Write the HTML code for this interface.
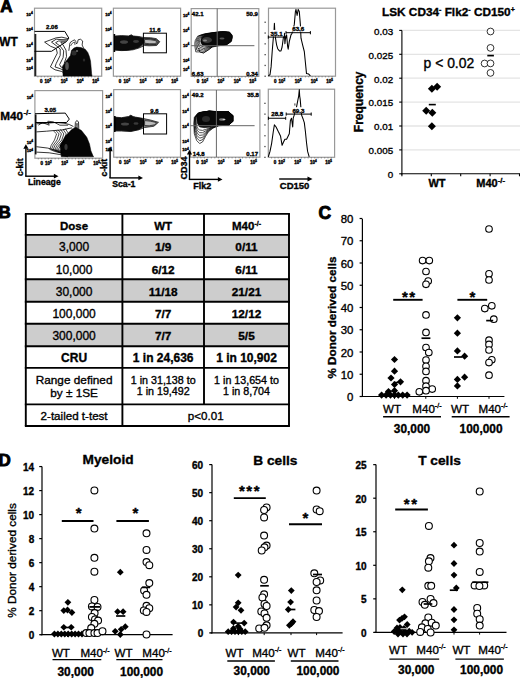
<!DOCTYPE html>
<html><head><meta charset="utf-8"><style>
html,body{margin:0;padding:0;background:#fff;}
svg{display:block;}
text{font-family:"Liberation Sans", sans-serif;fill:#000;stroke:#000;stroke-width:0.35px;}
</style></head><body>
<svg width="520" height="678" viewBox="0 0 520 678">
<rect width="520" height="678" fill="#fff"/>
<text x="0.2" y="12.4" font-size="17" font-weight="bold" text-anchor="start" style="stroke-width:0.9px">A</text>
<text x="-0.8" y="46.4" font-size="11.9" font-weight="bold" text-anchor="start">WT</text>
<text x="0.2" y="120.1" font-size="11.7" font-weight="bold">M40<tspan font-size="8" dy="-5" dx="0.5">-/-</tspan></text>
<rect x="34.5" y="8.2" width="67.2" height="68.0" fill="none" stroke="#999" stroke-width="1.2"/>
<text x="32.7" y="16.26" font-size="4.2" font-weight="bold" text-anchor="end" fill="#222">10<tspan font-size="3.2" dy="-1.8">4</tspan></text>
<text x="32.7" y="31.356" font-size="4.2" font-weight="bold" text-anchor="end" fill="#222">10<tspan font-size="3.2" dy="-1.8">4</tspan></text>
<text x="32.7" y="46.86000000000001" font-size="4.2" font-weight="bold" text-anchor="end" fill="#222">10<tspan font-size="3.2" dy="-1.8">4</tspan></text>
<text x="32.7" y="62.160000000000004" font-size="4.2" font-weight="bold" text-anchor="end" fill="#222">10<tspan font-size="3.2" dy="-1.8">4</tspan></text>
<text x="32.7" y="70.32" font-size="4.2" font-weight="bold" text-anchor="end" fill="#222">10<tspan font-size="3.2" dy="-1.8">4</tspan></text>
<text x="41.22" y="82.5" font-size="4.5" font-weight="bold" text-anchor="middle" fill="#333">0</text>
<text x="47.94" y="82.5" font-size="4.5" font-weight="bold" text-anchor="middle" fill="#333">10<tspan font-size="3" dy="-2">2</tspan></text>
<text x="64.068" y="82.5" font-size="4.5" font-weight="bold" text-anchor="middle" fill="#333">10<tspan font-size="3" dy="-2">3</tspan></text>
<text x="80.196" y="82.5" font-size="4.5" font-weight="bold" text-anchor="middle" fill="#333">10<tspan font-size="3" dy="-2">4</tspan></text>
<text x="95.65200000000002" y="82.5" font-size="4.5" font-weight="bold" text-anchor="middle" fill="#333">10<tspan font-size="3" dy="-2">5</tspan></text>
<line x1="37.9" y1="76.2" x2="37.9" y2="77.4" stroke="#555" stroke-width="0.6"/>
<line x1="41.2" y1="76.2" x2="41.2" y2="77.4" stroke="#555" stroke-width="0.6"/>
<line x1="44.6" y1="76.2" x2="44.6" y2="77.4" stroke="#555" stroke-width="0.6"/>
<line x1="47.9" y1="76.2" x2="47.9" y2="77.4" stroke="#555" stroke-width="0.6"/>
<line x1="51.3" y1="76.2" x2="51.3" y2="77.4" stroke="#555" stroke-width="0.6"/>
<line x1="54.7" y1="76.2" x2="54.7" y2="77.4" stroke="#555" stroke-width="0.6"/>
<line x1="58.0" y1="76.2" x2="58.0" y2="77.4" stroke="#555" stroke-width="0.6"/>
<line x1="61.4" y1="76.2" x2="61.4" y2="77.4" stroke="#555" stroke-width="0.6"/>
<line x1="64.7" y1="76.2" x2="64.7" y2="77.4" stroke="#555" stroke-width="0.6"/>
<line x1="68.1" y1="76.2" x2="68.1" y2="77.4" stroke="#555" stroke-width="0.6"/>
<line x1="71.5" y1="76.2" x2="71.5" y2="77.4" stroke="#555" stroke-width="0.6"/>
<line x1="74.8" y1="76.2" x2="74.8" y2="77.4" stroke="#555" stroke-width="0.6"/>
<line x1="78.2" y1="76.2" x2="78.2" y2="77.4" stroke="#555" stroke-width="0.6"/>
<line x1="81.5" y1="76.2" x2="81.5" y2="77.4" stroke="#555" stroke-width="0.6"/>
<line x1="84.9" y1="76.2" x2="84.9" y2="77.4" stroke="#555" stroke-width="0.6"/>
<line x1="88.3" y1="76.2" x2="88.3" y2="77.4" stroke="#555" stroke-width="0.6"/>
<line x1="91.6" y1="76.2" x2="91.6" y2="77.4" stroke="#555" stroke-width="0.6"/>
<line x1="95.0" y1="76.2" x2="95.0" y2="77.4" stroke="#555" stroke-width="0.6"/>
<line x1="98.3" y1="76.2" x2="98.3" y2="77.4" stroke="#555" stroke-width="0.6"/>
<rect x="113.4" y="8.2" width="67.19999999999999" height="68.0" fill="none" stroke="#999" stroke-width="1.2"/>
<text x="111.60000000000001" y="16.26" font-size="4.2" font-weight="bold" text-anchor="end" fill="#222">10<tspan font-size="3.2" dy="-1.8">4</tspan></text>
<text x="111.60000000000001" y="31.356" font-size="4.2" font-weight="bold" text-anchor="end" fill="#222">10<tspan font-size="3.2" dy="-1.8">4</tspan></text>
<text x="111.60000000000001" y="46.86000000000001" font-size="4.2" font-weight="bold" text-anchor="end" fill="#222">10<tspan font-size="3.2" dy="-1.8">4</tspan></text>
<text x="111.60000000000001" y="62.160000000000004" font-size="4.2" font-weight="bold" text-anchor="end" fill="#222">10<tspan font-size="3.2" dy="-1.8">4</tspan></text>
<text x="111.60000000000001" y="70.32" font-size="4.2" font-weight="bold" text-anchor="end" fill="#222">10<tspan font-size="3.2" dy="-1.8">4</tspan></text>
<text x="120.12" y="82.5" font-size="4.5" font-weight="bold" text-anchor="middle" fill="#333">0</text>
<text x="126.84" y="82.5" font-size="4.5" font-weight="bold" text-anchor="middle" fill="#333">10<tspan font-size="3" dy="-2">2</tspan></text>
<text x="142.968" y="82.5" font-size="4.5" font-weight="bold" text-anchor="middle" fill="#333">10<tspan font-size="3" dy="-2">3</tspan></text>
<text x="159.096" y="82.5" font-size="4.5" font-weight="bold" text-anchor="middle" fill="#333">10<tspan font-size="3" dy="-2">4</tspan></text>
<text x="174.552" y="82.5" font-size="4.5" font-weight="bold" text-anchor="middle" fill="#333">10<tspan font-size="3" dy="-2">5</tspan></text>
<line x1="116.8" y1="76.2" x2="116.8" y2="77.4" stroke="#555" stroke-width="0.6"/>
<line x1="120.1" y1="76.2" x2="120.1" y2="77.4" stroke="#555" stroke-width="0.6"/>
<line x1="123.5" y1="76.2" x2="123.5" y2="77.4" stroke="#555" stroke-width="0.6"/>
<line x1="126.8" y1="76.2" x2="126.8" y2="77.4" stroke="#555" stroke-width="0.6"/>
<line x1="130.2" y1="76.2" x2="130.2" y2="77.4" stroke="#555" stroke-width="0.6"/>
<line x1="133.6" y1="76.2" x2="133.6" y2="77.4" stroke="#555" stroke-width="0.6"/>
<line x1="136.9" y1="76.2" x2="136.9" y2="77.4" stroke="#555" stroke-width="0.6"/>
<line x1="140.3" y1="76.2" x2="140.3" y2="77.4" stroke="#555" stroke-width="0.6"/>
<line x1="143.6" y1="76.2" x2="143.6" y2="77.4" stroke="#555" stroke-width="0.6"/>
<line x1="147.0" y1="76.2" x2="147.0" y2="77.4" stroke="#555" stroke-width="0.6"/>
<line x1="150.4" y1="76.2" x2="150.4" y2="77.4" stroke="#555" stroke-width="0.6"/>
<line x1="153.7" y1="76.2" x2="153.7" y2="77.4" stroke="#555" stroke-width="0.6"/>
<line x1="157.1" y1="76.2" x2="157.1" y2="77.4" stroke="#555" stroke-width="0.6"/>
<line x1="160.4" y1="76.2" x2="160.4" y2="77.4" stroke="#555" stroke-width="0.6"/>
<line x1="163.8" y1="76.2" x2="163.8" y2="77.4" stroke="#555" stroke-width="0.6"/>
<line x1="167.2" y1="76.2" x2="167.2" y2="77.4" stroke="#555" stroke-width="0.6"/>
<line x1="170.5" y1="76.2" x2="170.5" y2="77.4" stroke="#555" stroke-width="0.6"/>
<line x1="173.9" y1="76.2" x2="173.9" y2="77.4" stroke="#555" stroke-width="0.6"/>
<line x1="177.2" y1="76.2" x2="177.2" y2="77.4" stroke="#555" stroke-width="0.6"/>
<rect x="191.2" y="8.6" width="67.60000000000002" height="67.80000000000001" fill="none" stroke="#999" stroke-width="1.2"/>
<text x="189.39999999999998" y="16.641000000000002" font-size="4.2" font-weight="bold" text-anchor="end" fill="#222">10<tspan font-size="3.2" dy="-1.8">4</tspan></text>
<text x="189.39999999999998" y="31.692600000000006" font-size="4.2" font-weight="bold" text-anchor="end" fill="#222">10<tspan font-size="3.2" dy="-1.8">4</tspan></text>
<text x="189.39999999999998" y="47.15100000000001" font-size="4.2" font-weight="bold" text-anchor="end" fill="#222">10<tspan font-size="3.2" dy="-1.8">4</tspan></text>
<text x="189.39999999999998" y="62.40600000000001" font-size="4.2" font-weight="bold" text-anchor="end" fill="#222">10<tspan font-size="3.2" dy="-1.8">4</tspan></text>
<text x="189.39999999999998" y="70.542" font-size="4.2" font-weight="bold" text-anchor="end" fill="#222">10<tspan font-size="3.2" dy="-1.8">4</tspan></text>
<text x="197.95999999999998" y="82.7" font-size="4.5" font-weight="bold" text-anchor="middle" fill="#333">0</text>
<text x="204.72" y="82.7" font-size="4.5" font-weight="bold" text-anchor="middle" fill="#333">10<tspan font-size="3" dy="-2">2</tspan></text>
<text x="220.944" y="82.7" font-size="4.5" font-weight="bold" text-anchor="middle" fill="#333">10<tspan font-size="3" dy="-2">3</tspan></text>
<text x="237.168" y="82.7" font-size="4.5" font-weight="bold" text-anchor="middle" fill="#333">10<tspan font-size="3" dy="-2">4</tspan></text>
<text x="252.716" y="82.7" font-size="4.5" font-weight="bold" text-anchor="middle" fill="#333">10<tspan font-size="3" dy="-2">5</tspan></text>
<line x1="194.6" y1="76.4" x2="194.6" y2="77.60000000000001" stroke="#555" stroke-width="0.6"/>
<line x1="198.0" y1="76.4" x2="198.0" y2="77.60000000000001" stroke="#555" stroke-width="0.6"/>
<line x1="201.3" y1="76.4" x2="201.3" y2="77.60000000000001" stroke="#555" stroke-width="0.6"/>
<line x1="204.7" y1="76.4" x2="204.7" y2="77.60000000000001" stroke="#555" stroke-width="0.6"/>
<line x1="208.1" y1="76.4" x2="208.1" y2="77.60000000000001" stroke="#555" stroke-width="0.6"/>
<line x1="211.5" y1="76.4" x2="211.5" y2="77.60000000000001" stroke="#555" stroke-width="0.6"/>
<line x1="214.9" y1="76.4" x2="214.9" y2="77.60000000000001" stroke="#555" stroke-width="0.6"/>
<line x1="218.2" y1="76.4" x2="218.2" y2="77.60000000000001" stroke="#555" stroke-width="0.6"/>
<line x1="221.6" y1="76.4" x2="221.6" y2="77.60000000000001" stroke="#555" stroke-width="0.6"/>
<line x1="225.0" y1="76.4" x2="225.0" y2="77.60000000000001" stroke="#555" stroke-width="0.6"/>
<line x1="228.4" y1="76.4" x2="228.4" y2="77.60000000000001" stroke="#555" stroke-width="0.6"/>
<line x1="231.8" y1="76.4" x2="231.8" y2="77.60000000000001" stroke="#555" stroke-width="0.6"/>
<line x1="235.1" y1="76.4" x2="235.1" y2="77.60000000000001" stroke="#555" stroke-width="0.6"/>
<line x1="238.5" y1="76.4" x2="238.5" y2="77.60000000000001" stroke="#555" stroke-width="0.6"/>
<line x1="241.9" y1="76.4" x2="241.9" y2="77.60000000000001" stroke="#555" stroke-width="0.6"/>
<line x1="245.3" y1="76.4" x2="245.3" y2="77.60000000000001" stroke="#555" stroke-width="0.6"/>
<line x1="248.7" y1="76.4" x2="248.7" y2="77.60000000000001" stroke="#555" stroke-width="0.6"/>
<line x1="252.0" y1="76.4" x2="252.0" y2="77.60000000000001" stroke="#555" stroke-width="0.6"/>
<line x1="255.4" y1="76.4" x2="255.4" y2="77.60000000000001" stroke="#555" stroke-width="0.6"/>
<rect x="268.5" y="8.2" width="67.0" height="68.0" fill="none" stroke="#999" stroke-width="1.2"/>
<rect x="264.5" y="75.6" width="1.3" height="1.3" fill="#444"/>
<rect x="264.5" y="64.8" width="1.3" height="1.3" fill="#444"/>
<rect x="264.5" y="54.0" width="1.3" height="1.3" fill="#444"/>
<rect x="264.5" y="43.2" width="1.3" height="1.3" fill="#444"/>
<rect x="264.5" y="32.4" width="1.3" height="1.3" fill="#444"/>
<rect x="264.5" y="21.6" width="1.3" height="1.3" fill="#444"/>
<text x="275.2" y="82.5" font-size="4.5" font-weight="bold" text-anchor="middle" fill="#333">0</text>
<text x="281.9" y="82.5" font-size="4.5" font-weight="bold" text-anchor="middle" fill="#333">10<tspan font-size="3" dy="-2">2</tspan></text>
<text x="297.98" y="82.5" font-size="4.5" font-weight="bold" text-anchor="middle" fill="#333">10<tspan font-size="3" dy="-2">3</tspan></text>
<text x="314.06" y="82.5" font-size="4.5" font-weight="bold" text-anchor="middle" fill="#333">10<tspan font-size="3" dy="-2">4</tspan></text>
<text x="329.47" y="82.5" font-size="4.5" font-weight="bold" text-anchor="middle" fill="#333">10<tspan font-size="3" dy="-2">5</tspan></text>
<line x1="271.9" y1="76.2" x2="271.9" y2="77.4" stroke="#555" stroke-width="0.6"/>
<line x1="275.2" y1="76.2" x2="275.2" y2="77.4" stroke="#555" stroke-width="0.6"/>
<line x1="278.6" y1="76.2" x2="278.6" y2="77.4" stroke="#555" stroke-width="0.6"/>
<line x1="281.9" y1="76.2" x2="281.9" y2="77.4" stroke="#555" stroke-width="0.6"/>
<line x1="285.2" y1="76.2" x2="285.2" y2="77.4" stroke="#555" stroke-width="0.6"/>
<line x1="288.6" y1="76.2" x2="288.6" y2="77.4" stroke="#555" stroke-width="0.6"/>
<line x1="291.9" y1="76.2" x2="291.9" y2="77.4" stroke="#555" stroke-width="0.6"/>
<line x1="295.3" y1="76.2" x2="295.3" y2="77.4" stroke="#555" stroke-width="0.6"/>
<line x1="298.6" y1="76.2" x2="298.6" y2="77.4" stroke="#555" stroke-width="0.6"/>
<line x1="302.0" y1="76.2" x2="302.0" y2="77.4" stroke="#555" stroke-width="0.6"/>
<line x1="305.4" y1="76.2" x2="305.4" y2="77.4" stroke="#555" stroke-width="0.6"/>
<line x1="308.7" y1="76.2" x2="308.7" y2="77.4" stroke="#555" stroke-width="0.6"/>
<line x1="312.1" y1="76.2" x2="312.1" y2="77.4" stroke="#555" stroke-width="0.6"/>
<line x1="315.4" y1="76.2" x2="315.4" y2="77.4" stroke="#555" stroke-width="0.6"/>
<line x1="318.8" y1="76.2" x2="318.8" y2="77.4" stroke="#555" stroke-width="0.6"/>
<line x1="322.1" y1="76.2" x2="322.1" y2="77.4" stroke="#555" stroke-width="0.6"/>
<line x1="325.4" y1="76.2" x2="325.4" y2="77.4" stroke="#555" stroke-width="0.6"/>
<line x1="328.8" y1="76.2" x2="328.8" y2="77.4" stroke="#555" stroke-width="0.6"/>
<line x1="332.1" y1="76.2" x2="332.1" y2="77.4" stroke="#555" stroke-width="0.6"/>
<rect x="34.9" y="90.6" width="67.69999999999999" height="67.6" fill="none" stroke="#999" stroke-width="1.2"/>
<text x="33.1" y="98.62199999999999" font-size="4.2" font-weight="bold" text-anchor="end" fill="#222">10<tspan font-size="3.2" dy="-1.8">4</tspan></text>
<text x="33.1" y="129.042" font-size="4.2" font-weight="bold" text-anchor="end" fill="#222">10<tspan font-size="3.2" dy="-1.8">4</tspan></text>
<text x="33.1" y="144.25199999999998" font-size="4.2" font-weight="bold" text-anchor="end" fill="#222">10<tspan font-size="3.2" dy="-1.8">4</tspan></text>
<text x="33.1" y="152.36399999999998" font-size="4.2" font-weight="bold" text-anchor="end" fill="#222">10<tspan font-size="3.2" dy="-1.8">4</tspan></text>
<text x="41.67" y="164.5" font-size="4.5" font-weight="bold" text-anchor="middle" fill="#333">0</text>
<text x="48.44" y="164.5" font-size="4.5" font-weight="bold" text-anchor="middle" fill="#333">10<tspan font-size="3" dy="-2">2</tspan></text>
<text x="64.68799999999999" y="164.5" font-size="4.5" font-weight="bold" text-anchor="middle" fill="#333">10<tspan font-size="3" dy="-2">3</tspan></text>
<text x="80.93599999999999" y="164.5" font-size="4.5" font-weight="bold" text-anchor="middle" fill="#333">10<tspan font-size="3" dy="-2">4</tspan></text>
<text x="96.50699999999999" y="164.5" font-size="4.5" font-weight="bold" text-anchor="middle" fill="#333">10<tspan font-size="3" dy="-2">5</tspan></text>
<line x1="38.3" y1="158.2" x2="38.3" y2="159.39999999999998" stroke="#555" stroke-width="0.6"/>
<line x1="41.7" y1="158.2" x2="41.7" y2="159.39999999999998" stroke="#555" stroke-width="0.6"/>
<line x1="45.1" y1="158.2" x2="45.1" y2="159.39999999999998" stroke="#555" stroke-width="0.6"/>
<line x1="48.4" y1="158.2" x2="48.4" y2="159.39999999999998" stroke="#555" stroke-width="0.6"/>
<line x1="51.8" y1="158.2" x2="51.8" y2="159.39999999999998" stroke="#555" stroke-width="0.6"/>
<line x1="55.2" y1="158.2" x2="55.2" y2="159.39999999999998" stroke="#555" stroke-width="0.6"/>
<line x1="58.6" y1="158.2" x2="58.6" y2="159.39999999999998" stroke="#555" stroke-width="0.6"/>
<line x1="62.0" y1="158.2" x2="62.0" y2="159.39999999999998" stroke="#555" stroke-width="0.6"/>
<line x1="65.4" y1="158.2" x2="65.4" y2="159.39999999999998" stroke="#555" stroke-width="0.6"/>
<line x1="68.8" y1="158.2" x2="68.8" y2="159.39999999999998" stroke="#555" stroke-width="0.6"/>
<line x1="72.1" y1="158.2" x2="72.1" y2="159.39999999999998" stroke="#555" stroke-width="0.6"/>
<line x1="75.5" y1="158.2" x2="75.5" y2="159.39999999999998" stroke="#555" stroke-width="0.6"/>
<line x1="78.9" y1="158.2" x2="78.9" y2="159.39999999999998" stroke="#555" stroke-width="0.6"/>
<line x1="82.3" y1="158.2" x2="82.3" y2="159.39999999999998" stroke="#555" stroke-width="0.6"/>
<line x1="85.7" y1="158.2" x2="85.7" y2="159.39999999999998" stroke="#555" stroke-width="0.6"/>
<line x1="89.1" y1="158.2" x2="89.1" y2="159.39999999999998" stroke="#555" stroke-width="0.6"/>
<line x1="92.4" y1="158.2" x2="92.4" y2="159.39999999999998" stroke="#555" stroke-width="0.6"/>
<line x1="95.8" y1="158.2" x2="95.8" y2="159.39999999999998" stroke="#555" stroke-width="0.6"/>
<line x1="99.2" y1="158.2" x2="99.2" y2="159.39999999999998" stroke="#555" stroke-width="0.6"/>
<rect x="113.7" y="89.6" width="66.8" height="67.6" fill="none" stroke="#999" stroke-width="1.2"/>
<text x="111.9" y="97.62199999999999" font-size="4.2" font-weight="bold" text-anchor="end" fill="#222">10<tspan font-size="3.2" dy="-1.8">4</tspan></text>
<text x="111.9" y="112.62919999999998" font-size="4.2" font-weight="bold" text-anchor="end" fill="#222">10<tspan font-size="3.2" dy="-1.8">4</tspan></text>
<text x="111.9" y="128.042" font-size="4.2" font-weight="bold" text-anchor="end" fill="#222">10<tspan font-size="3.2" dy="-1.8">4</tspan></text>
<text x="111.9" y="143.25199999999998" font-size="4.2" font-weight="bold" text-anchor="end" fill="#222">10<tspan font-size="3.2" dy="-1.8">4</tspan></text>
<text x="111.9" y="151.36399999999998" font-size="4.2" font-weight="bold" text-anchor="end" fill="#222">10<tspan font-size="3.2" dy="-1.8">4</tspan></text>
<text x="120.38" y="163.5" font-size="4.5" font-weight="bold" text-anchor="middle" fill="#333">0</text>
<text x="127.06" y="163.5" font-size="4.5" font-weight="bold" text-anchor="middle" fill="#333">10<tspan font-size="3" dy="-2">2</tspan></text>
<text x="143.092" y="163.5" font-size="4.5" font-weight="bold" text-anchor="middle" fill="#333">10<tspan font-size="3" dy="-2">3</tspan></text>
<text x="159.124" y="163.5" font-size="4.5" font-weight="bold" text-anchor="middle" fill="#333">10<tspan font-size="3" dy="-2">4</tspan></text>
<text x="174.488" y="163.5" font-size="4.5" font-weight="bold" text-anchor="middle" fill="#333">10<tspan font-size="3" dy="-2">5</tspan></text>
<line x1="117.0" y1="157.2" x2="117.0" y2="158.39999999999998" stroke="#555" stroke-width="0.6"/>
<line x1="120.4" y1="157.2" x2="120.4" y2="158.39999999999998" stroke="#555" stroke-width="0.6"/>
<line x1="123.7" y1="157.2" x2="123.7" y2="158.39999999999998" stroke="#555" stroke-width="0.6"/>
<line x1="127.1" y1="157.2" x2="127.1" y2="158.39999999999998" stroke="#555" stroke-width="0.6"/>
<line x1="130.4" y1="157.2" x2="130.4" y2="158.39999999999998" stroke="#555" stroke-width="0.6"/>
<line x1="133.7" y1="157.2" x2="133.7" y2="158.39999999999998" stroke="#555" stroke-width="0.6"/>
<line x1="137.1" y1="157.2" x2="137.1" y2="158.39999999999998" stroke="#555" stroke-width="0.6"/>
<line x1="140.4" y1="157.2" x2="140.4" y2="158.39999999999998" stroke="#555" stroke-width="0.6"/>
<line x1="143.8" y1="157.2" x2="143.8" y2="158.39999999999998" stroke="#555" stroke-width="0.6"/>
<line x1="147.1" y1="157.2" x2="147.1" y2="158.39999999999998" stroke="#555" stroke-width="0.6"/>
<line x1="150.4" y1="157.2" x2="150.4" y2="158.39999999999998" stroke="#555" stroke-width="0.6"/>
<line x1="153.8" y1="157.2" x2="153.8" y2="158.39999999999998" stroke="#555" stroke-width="0.6"/>
<line x1="157.1" y1="157.2" x2="157.1" y2="158.39999999999998" stroke="#555" stroke-width="0.6"/>
<line x1="160.5" y1="157.2" x2="160.5" y2="158.39999999999998" stroke="#555" stroke-width="0.6"/>
<line x1="163.8" y1="157.2" x2="163.8" y2="158.39999999999998" stroke="#555" stroke-width="0.6"/>
<line x1="167.1" y1="157.2" x2="167.1" y2="158.39999999999998" stroke="#555" stroke-width="0.6"/>
<line x1="170.5" y1="157.2" x2="170.5" y2="158.39999999999998" stroke="#555" stroke-width="0.6"/>
<line x1="173.8" y1="157.2" x2="173.8" y2="158.39999999999998" stroke="#555" stroke-width="0.6"/>
<line x1="177.2" y1="157.2" x2="177.2" y2="158.39999999999998" stroke="#555" stroke-width="0.6"/>
<rect x="190.5" y="90.0" width="69.39999999999998" height="67.19999999999999" fill="none" stroke="#999" stroke-width="1.2"/>
<text x="188.7" y="97.984" font-size="4.2" font-weight="bold" text-anchor="end" fill="#222">10<tspan font-size="3.2" dy="-1.8">4</tspan></text>
<text x="188.7" y="112.90239999999999" font-size="4.2" font-weight="bold" text-anchor="end" fill="#222">10<tspan font-size="3.2" dy="-1.8">4</tspan></text>
<text x="188.7" y="128.224" font-size="4.2" font-weight="bold" text-anchor="end" fill="#222">10<tspan font-size="3.2" dy="-1.8">4</tspan></text>
<text x="188.7" y="143.344" font-size="4.2" font-weight="bold" text-anchor="end" fill="#222">10<tspan font-size="3.2" dy="-1.8">4</tspan></text>
<text x="188.7" y="151.408" font-size="4.2" font-weight="bold" text-anchor="end" fill="#222">10<tspan font-size="3.2" dy="-1.8">4</tspan></text>
<text x="197.44" y="163.5" font-size="4.5" font-weight="bold" text-anchor="middle" fill="#333">0</text>
<text x="204.38" y="163.5" font-size="4.5" font-weight="bold" text-anchor="middle" fill="#333">10<tspan font-size="3" dy="-2">2</tspan></text>
<text x="221.036" y="163.5" font-size="4.5" font-weight="bold" text-anchor="middle" fill="#333">10<tspan font-size="3" dy="-2">3</tspan></text>
<text x="237.69199999999998" y="163.5" font-size="4.5" font-weight="bold" text-anchor="middle" fill="#333">10<tspan font-size="3" dy="-2">4</tspan></text>
<text x="253.654" y="163.5" font-size="4.5" font-weight="bold" text-anchor="middle" fill="#333">10<tspan font-size="3" dy="-2">5</tspan></text>
<line x1="194.0" y1="157.2" x2="194.0" y2="158.39999999999998" stroke="#555" stroke-width="0.6"/>
<line x1="197.4" y1="157.2" x2="197.4" y2="158.39999999999998" stroke="#555" stroke-width="0.6"/>
<line x1="200.9" y1="157.2" x2="200.9" y2="158.39999999999998" stroke="#555" stroke-width="0.6"/>
<line x1="204.4" y1="157.2" x2="204.4" y2="158.39999999999998" stroke="#555" stroke-width="0.6"/>
<line x1="207.8" y1="157.2" x2="207.8" y2="158.39999999999998" stroke="#555" stroke-width="0.6"/>
<line x1="211.3" y1="157.2" x2="211.3" y2="158.39999999999998" stroke="#555" stroke-width="0.6"/>
<line x1="214.8" y1="157.2" x2="214.8" y2="158.39999999999998" stroke="#555" stroke-width="0.6"/>
<line x1="218.3" y1="157.2" x2="218.3" y2="158.39999999999998" stroke="#555" stroke-width="0.6"/>
<line x1="221.7" y1="157.2" x2="221.7" y2="158.39999999999998" stroke="#555" stroke-width="0.6"/>
<line x1="225.2" y1="157.2" x2="225.2" y2="158.39999999999998" stroke="#555" stroke-width="0.6"/>
<line x1="228.7" y1="157.2" x2="228.7" y2="158.39999999999998" stroke="#555" stroke-width="0.6"/>
<line x1="232.1" y1="157.2" x2="232.1" y2="158.39999999999998" stroke="#555" stroke-width="0.6"/>
<line x1="235.6" y1="157.2" x2="235.6" y2="158.39999999999998" stroke="#555" stroke-width="0.6"/>
<line x1="239.1" y1="157.2" x2="239.1" y2="158.39999999999998" stroke="#555" stroke-width="0.6"/>
<line x1="242.5" y1="157.2" x2="242.5" y2="158.39999999999998" stroke="#555" stroke-width="0.6"/>
<line x1="246.0" y1="157.2" x2="246.0" y2="158.39999999999998" stroke="#555" stroke-width="0.6"/>
<line x1="249.5" y1="157.2" x2="249.5" y2="158.39999999999998" stroke="#555" stroke-width="0.6"/>
<line x1="253.0" y1="157.2" x2="253.0" y2="158.39999999999998" stroke="#555" stroke-width="0.6"/>
<line x1="256.4" y1="157.2" x2="256.4" y2="158.39999999999998" stroke="#555" stroke-width="0.6"/>
<rect x="268.3" y="89.2" width="66.30000000000001" height="68.10000000000001" fill="none" stroke="#999" stroke-width="1.2"/>
<rect x="264.3" y="156.7" width="1.3" height="1.3" fill="#444"/>
<rect x="264.3" y="145.9" width="1.3" height="1.3" fill="#444"/>
<rect x="264.3" y="135.1" width="1.3" height="1.3" fill="#444"/>
<rect x="264.3" y="124.3" width="1.3" height="1.3" fill="#444"/>
<rect x="264.3" y="113.5" width="1.3" height="1.3" fill="#444"/>
<rect x="264.3" y="102.7" width="1.3" height="1.3" fill="#444"/>
<text x="274.93" y="163.60000000000002" font-size="4.5" font-weight="bold" text-anchor="middle" fill="#333">0</text>
<text x="281.56" y="163.60000000000002" font-size="4.5" font-weight="bold" text-anchor="middle" fill="#333">10<tspan font-size="3" dy="-2">2</tspan></text>
<text x="297.47200000000004" y="163.60000000000002" font-size="4.5" font-weight="bold" text-anchor="middle" fill="#333">10<tspan font-size="3" dy="-2">3</tspan></text>
<text x="313.384" y="163.60000000000002" font-size="4.5" font-weight="bold" text-anchor="middle" fill="#333">10<tspan font-size="3" dy="-2">4</tspan></text>
<text x="328.63300000000004" y="163.60000000000002" font-size="4.5" font-weight="bold" text-anchor="middle" fill="#333">10<tspan font-size="3" dy="-2">5</tspan></text>
<line x1="271.6" y1="157.3" x2="271.6" y2="158.5" stroke="#555" stroke-width="0.6"/>
<line x1="274.9" y1="157.3" x2="274.9" y2="158.5" stroke="#555" stroke-width="0.6"/>
<line x1="278.2" y1="157.3" x2="278.2" y2="158.5" stroke="#555" stroke-width="0.6"/>
<line x1="281.6" y1="157.3" x2="281.6" y2="158.5" stroke="#555" stroke-width="0.6"/>
<line x1="284.9" y1="157.3" x2="284.9" y2="158.5" stroke="#555" stroke-width="0.6"/>
<line x1="288.2" y1="157.3" x2="288.2" y2="158.5" stroke="#555" stroke-width="0.6"/>
<line x1="291.5" y1="157.3" x2="291.5" y2="158.5" stroke="#555" stroke-width="0.6"/>
<line x1="294.8" y1="157.3" x2="294.8" y2="158.5" stroke="#555" stroke-width="0.6"/>
<line x1="298.1" y1="157.3" x2="298.1" y2="158.5" stroke="#555" stroke-width="0.6"/>
<line x1="301.5" y1="157.3" x2="301.5" y2="158.5" stroke="#555" stroke-width="0.6"/>
<line x1="304.8" y1="157.3" x2="304.8" y2="158.5" stroke="#555" stroke-width="0.6"/>
<line x1="308.1" y1="157.3" x2="308.1" y2="158.5" stroke="#555" stroke-width="0.6"/>
<line x1="311.4" y1="157.3" x2="311.4" y2="158.5" stroke="#555" stroke-width="0.6"/>
<line x1="314.7" y1="157.3" x2="314.7" y2="158.5" stroke="#555" stroke-width="0.6"/>
<line x1="318.0" y1="157.3" x2="318.0" y2="158.5" stroke="#555" stroke-width="0.6"/>
<line x1="321.3" y1="157.3" x2="321.3" y2="158.5" stroke="#555" stroke-width="0.6"/>
<line x1="324.7" y1="157.3" x2="324.7" y2="158.5" stroke="#555" stroke-width="0.6"/>
<line x1="328.0" y1="157.3" x2="328.0" y2="158.5" stroke="#555" stroke-width="0.6"/>
<line x1="331.3" y1="157.3" x2="331.3" y2="158.5" stroke="#555" stroke-width="0.6"/>
<path d="M63.0 74.6 L62.5 66.2 L66.2 60.9 L70.4 55.6 L71.5 50.3 L74.0 48.0 L76.7 47.1 L81.0 47.6 L85.2 49.2 L87.8 52.5 L89.4 56.6 L90.5 61.0 L91.0 66.2 L91.6 73.6 L92.0 76.0 L63.0 76.0 Z" fill="#080808" stroke="#000" stroke-width="0.5" stroke-linejoin="round"/>
<ellipse cx="67" cy="66" rx="1.8" ry="4" fill="#555"/>
<ellipse cx="74" cy="53" rx="2.5" ry="2.5" fill="#2c2c2c"/>
<ellipse cx="77" cy="51" rx="1.2" ry="1" fill="#666"/>
<ellipse cx="84" cy="60" rx="1.2" ry="1.6" fill="#2a2a2a"/>
<path d="M68.3 38.7 L61.9 37.2 L56.2 37.8 L44.6 42.1 L50.4 46.2 L56.2 48.5 L57.3 53.1 L53.8 60.0 L50.4 66.9 L55.0 69.8 L61.9 71.5 L64.8 73.8" fill="none" stroke="#000" stroke-width="0.8" stroke-linejoin="round"/>
<path d="M67.7 39.8 L61.0 39.6 L56.2 39.2 L51.5 42.1 L56.2 45.6 L60.2 49.0 L60.2 55.4 L56.2 63.5 L55.0 66.9 L60.2 68.7 L64.2 70.4" fill="none" stroke="#000" stroke-width="0.8" stroke-linejoin="round"/>
<path d="M66.5 41.0 L58.5 41.0 L55.6 42.7 L60.2 46.2 L63.7 50.8 L63.1 57.7 L59.6 64.6 L60.8 66.9 L63.7 68.1" fill="none" stroke="#000" stroke-width="0.8" stroke-linejoin="round"/>
<path d="M65.4 42.1 L60.8 42.1 L63.1 45.0 L66.0 50.2 L66.5 56.5 L64.2 63.5" fill="none" stroke="#000" stroke-width="0.8" stroke-linejoin="round"/>
<path d="M68.8 50.8 L70.0 42.7 L72.3 41.0 L74.6 39.8 L75.8 41.5 L76.4 44.0 L77.5 42.7 L78.1 39.8 L80.4 39.2 L82.7 41.0 L82.1 45.0 L83.8 48.5" fill="none" stroke="#000" stroke-width="0.75" stroke-linejoin="round"/>
<path d="M70.5 46.0 L72.5 43.0 L74.5 42.0 L75.0 45.0" fill="none" stroke="#000" stroke-width="0.6" stroke-linejoin="round"/>
<rect x="34.5" y="34" width="1.8" height="42" fill="#222"/>
<path d="M34.5 31.4 L64.8 31.4 L68.8 38.1 L66.5 41.5 L51.5 51.3 L34.5 51.3" fill="none" stroke="#000" stroke-width="1.0" stroke-linejoin="round"/>
<text x="46.1" y="28.7" font-size="6" font-weight="bold" text-anchor="start">2.06</text>
<path d="M115.2 36.0 L121.5 35.6 L128.5 36.0 L131.3 34.8 L133.1 36.0 L138.8 36.5 L143.5 37.5 L150.4 37.7 L156.2 38.6 L159.8 41.7 L156.7 45.5 L149.2 45.8 L144.6 45.5 L138.8 48.1 L133.1 49.8 L127.3 50.4 L121.5 50.6 L115.2 50.2 Z" fill="#7a7a7a" stroke="#222" stroke-width="0.8" stroke-linejoin="round"/>
<path d="M115.2 36.3 L121.5 36.0 L128.5 36.3 L131.3 35.2 L133.1 36.3 L138.8 36.9 L142.9 38.3 L143.5 42.3 L142.3 44.6 L138.8 47.5 L133.1 49.2 L127.3 50.2 L121.5 50.4 L115.2 49.8 Z" fill="#0c0c0c" stroke="#000" stroke-width="0.5" stroke-linejoin="round"/>
<path d="M143.5 38.3 L150.4 38.6 L156.2 39.8 L158.5 41.7 L156.2 44.6 L149.2 44.8 L143.5 44.0" fill="none" stroke="#000" stroke-width="0.7" stroke-linejoin="round"/>
<path d="M144.6 39.4 L150.4 39.8 L155.6 40.6 L156.7 42.1 L155.0 43.7 L149.2 43.7 L144.6 43.2 Z" fill="#bbb" stroke="#000" stroke-width="0.6" stroke-linejoin="round"/>
<ellipse cx="124" cy="42" rx="4" ry="1.8" fill="#444"/>
<ellipse cx="136" cy="41.5" rx="3" ry="1.4" fill="#3a3a3a"/>
<rect x="113.6" y="34" width="1.6" height="18" fill="#000"/>
<rect x="143.4" y="33.2" width="23" height="19.6" fill="none" stroke="#000" stroke-width="1"/>
<text x="149.2" y="31.9" font-size="6" font-weight="bold" text-anchor="start">11.6</text>
<path d="M195.3 40.4 L197.7 36.1 L204.4 33.8 L214.0 32.5 L221.7 31.5 L229.4 31.9 L232.5 35.6 L231.5 41.3 L226.5 44.9 L218.8 45.7 L212.1 47.1 L208.3 49.8 L203.5 52.9 L199.6 51.9 L195.8 51.9 L195.0 47.1 L194.8 43.3 Z" fill="none" stroke="#000" stroke-width="0.7" stroke-linejoin="round"/>
<path d="M196.5 39.8 L199.0 35.8 L206.3 33.7 L215.6 32.4 L223.3 31.7 L229.9 32.7 L232.2 36.7 L230.5 42.0 L225.0 45.0 L217.5 45.7 L211.5 46.9 L207.9 49.1 L203.7 51.4 L200.1 50.5 L196.8 50.2 L196.1 46.0 L196.0 42.5 Z" fill="none" stroke="#000" stroke-width="0.7" stroke-linejoin="round"/>
<path d="M197.8 39.2 L200.4 35.5 L208.3 33.6 L217.1 32.4 L224.8 31.9 L230.4 33.4 L232.0 37.9 L229.5 42.6 L223.5 45.1 L216.2 45.7 L211.0 46.7 L207.5 48.4 L203.8 50.0 L200.6 49.0 L197.9 48.5 L197.2 44.8 L197.2 41.7 Z" fill="none" stroke="#000" stroke-width="0.7" stroke-linejoin="round"/>
<path d="M199.0 38.7 L201.7 35.2 L210.2 33.4 L218.7 32.3 L226.3 32.1 L230.9 34.1 L231.7 39.0 L228.5 43.2 L221.9 45.2 L214.8 45.7 L210.4 46.4 L207.1 47.7 L204.0 48.6 L201.1 47.6 L198.9 46.7 L198.3 43.7 L198.4 41.0 Z" fill="none" stroke="#000" stroke-width="0.7" stroke-linejoin="round"/>
<path d="M200.3 38.1 L203.1 34.9 L212.1 33.3 L220.2 32.3 L227.9 32.3 L231.3 34.8 L231.4 40.2 L227.5 43.9 L220.4 45.3 L213.5 45.7 L209.8 46.2 L206.7 47.0 L204.2 47.1 L201.5 46.2 L200.0 45.0 L199.5 42.5 L199.6 40.2 Z" fill="none" stroke="#000" stroke-width="0.7" stroke-linejoin="round"/>
<path d="M198.7 48.1 L199.6 51.9 L203.5 52.9 L208.3 50.0 L212.1 47.1" fill="none" stroke="#000" stroke-width="0.7" stroke-linejoin="round"/>
<path d="M201.5 37.0 L204.4 34.4 L214.0 32.9 L221.7 31.9 L229.4 32.3 L232.0 35.6 L231.3 41.3 L226.5 44.7 L218.8 45.4 L212.1 45.7 L209.2 46.0 L206.3 46.3 L204.4 45.7 L202.0 44.7 L201.1 43.3 L200.6 41.3 Z" fill="#0a0a0a" stroke="#000" stroke-width="0.5" stroke-linejoin="round"/>
<ellipse cx="207" cy="40" rx="5" ry="3" fill="#3a3a3a"/>
<ellipse cx="205" cy="40.5" rx="2" ry="1" fill="#888"/>
<ellipse cx="222" cy="38.5" rx="2.5" ry="1" fill="#555"/>
<line x1="217.2" y1="8.6" x2="217.2" y2="76.4" stroke="#666" stroke-width="1.0"/>
<line x1="191.2" y1="45.7" x2="254.4" y2="45.7" stroke="#666" stroke-width="1.0"/>
<text x="191.8" y="16.4" font-size="6" font-weight="bold" text-anchor="start">42.1</text>
<text x="257.9" y="16.4" font-size="6" font-weight="bold" text-anchor="end">50.9</text>
<text x="191.8" y="75.5" font-size="6" font-weight="bold" text-anchor="start">6.63</text>
<text x="257.9" y="75.5" font-size="6" font-weight="bold" text-anchor="end">0.34</text>
<path d="M268.3 75.8 L270.0 74.7 L271.1 66.9 L272.2 51.5 L273.3 38.2 L274.1 29.3 L274.4 23.3 L274.7 29.3 L275.5 38.2 L276.6 44.8 L277.7 48.7 L279.4 50.9 L281.0 50.9 L282.1 47.0 L283.3 38.2 L284.4 33.2 L284.9 43.7 L285.5 38.2 L286.6 34.9 L287.7 47.0 L288.2 49.2 L289.3 41.5 L291.0 34.9 L292.1 33.2 L294.3 24.4 L295.4 11.6 L296.0 9.4 L297.1 15.5 L298.2 9.4 L299.3 11.6 L300.4 24.9 L301.0 38.2 L302.6 44.8 L304.3 51.5 L305.4 62.5 L306.5 73.6 L308.7 74.1 L310.4 75.8" fill="none" stroke="#000" stroke-width="1.05" stroke-linejoin="round"/>
<rect x="270.5" y="29.9" width="13.3" height="6.6" fill="#fff"/>
<rect x="292.1" y="26.4" width="11.6" height="5.3" fill="#fff"/>
<line x1="268.3" y1="37.1" x2="286" y2="37.1" stroke="#000" stroke-width="1.0"/>
<line x1="268.3" y1="35.5" x2="268.3" y2="38.7" stroke="#000" stroke-width="1.0"/>
<line x1="286" y1="35.5" x2="286" y2="38.7" stroke="#000" stroke-width="1.0"/>
<line x1="286" y1="32.7" x2="310.4" y2="32.7" stroke="#000" stroke-width="1.0"/>
<line x1="286" y1="31.1" x2="286" y2="34.3" stroke="#000" stroke-width="1.0"/>
<line x1="310.4" y1="31.1" x2="310.4" y2="34.3" stroke="#000" stroke-width="1.0"/>
<text x="270.6" y="36.1" font-size="6.2" font-weight="bold" text-anchor="start">35.1</text>
<text x="292.2" y="31.4" font-size="6.2" font-weight="bold" text-anchor="start">63.6</text>
<path d="M61.3 156.1 L59.9 145.4 L65.3 136.0 L72.0 129.2 L75.8 127.2 L77.4 127.9 L81.5 130.6 L86.8 137.3 L89.5 144.0 L90.9 150.8 L92.9 155.5 L93.6 156.8 L61.3 156.8 Z" fill="#050505" stroke="#000" stroke-width="0.5" stroke-linejoin="round"/>
<ellipse cx="66" cy="147" rx="1.6" ry="3" fill="#3a3a3a"/>
<path d="M75.0 128.6 L75.4 122.5 L76.7 120.5 L78.5 121.8 L78.8 128.6" fill="none" stroke="#000" stroke-width="0.8" stroke-linejoin="round"/>
<path d="M76.1 127.9 L76.7 123.2 L77.7 123.8 L77.7 127.9" fill="none" stroke="#000" stroke-width="0.6" stroke-linejoin="round"/>
<path d="M36.4 123.8 L46.5 123.2 L55.9 122.5 L64.0 123.2 L69.3 124.5 L73.4 126.5" fill="none" stroke="#000" stroke-width="0.8" stroke-linejoin="round"/>
<path d="M38.4 125.2 L42.4 122.5 L49.2 125.2 L47.8 121.2 L53.2 121.8 L59.9 125.2 L64.0 125.2 L68.0 125.2" fill="none" stroke="#000" stroke-width="0.75" stroke-linejoin="round"/>
<path d="M36.4 131.9 L46.5 131.2 L53.2 130.6 L62.6 129.9 L68.0 128.6 L72.0 127.9" fill="none" stroke="#000" stroke-width="0.8" stroke-linejoin="round"/>
<path d="M53.2 130.6 L56.6 133.9 L54.5 140.0 L51.2 145.4 L49.8 149.4 L54.5 151.4 L59.9 152.8" fill="none" stroke="#000" stroke-width="0.7" stroke-linejoin="round"/>
<path d="M55.6 130.2 L59.0 133.9 L57.0 140.0 L53.1 145.4 L51.5 149.4 L56.0 151.4 L60.6 152.8" fill="none" stroke="#000" stroke-width="0.7" stroke-linejoin="round"/>
<path d="M58.0 129.8 L61.4 133.9 L59.4 140.0 L55.0 145.4 L53.2 149.4 L57.4 151.4 L61.4 152.8" fill="none" stroke="#000" stroke-width="0.7" stroke-linejoin="round"/>
<path d="M60.5 129.4 L63.8 133.9 L61.8 140.0 L57.0 145.4 L54.9 149.4 L58.9 151.4 L62.1 152.8" fill="none" stroke="#000" stroke-width="0.7" stroke-linejoin="round"/>
<path d="M62.9 129.0 L66.2 133.9 L64.2 140.0 L58.9 145.4 L56.6 149.4 L60.3 151.4 L62.8 152.8" fill="none" stroke="#000" stroke-width="0.7" stroke-linejoin="round"/>
<path d="M65.3 128.6 L68.7 133.9 L66.6 140.0 L60.9 145.4 L58.3 149.4 L61.8 151.4 L63.6 152.8" fill="none" stroke="#000" stroke-width="0.7" stroke-linejoin="round"/>
<path d="M36.4 146.7 L47.8 148.1 L57.2 150.8 L61.3 153.5" fill="none" stroke="#000" stroke-width="0.8" stroke-linejoin="round"/>
<path d="M36.4 152.1 L49.2 152.8 L59.9 154.5 L68.0 156.8" fill="none" stroke="#000" stroke-width="0.8" stroke-linejoin="round"/>
<rect x="34.9" y="114.4" width="1.6" height="40" fill="#111"/>
<path d="M35.0 113.7 L65.3 113.1 L69.3 119.1 L66.6 122.5 L35.7 122.5" fill="none" stroke="#000" stroke-width="1.0" stroke-linejoin="round"/>
<text x="44.4" y="111.7" font-size="6" font-weight="bold" text-anchor="start">3.05</text>
<path d="M114.6 117.1 L121.5 117.7 L128.5 116.5 L130.8 115.2 L133.1 116.5 L135.4 117.1 L142.3 118.3 L150.4 120.0 L158.5 122.3 L153.8 126.3 L144.6 127.5 L138.8 129.8 L130.8 131.5 L121.5 131.0 L115.2 131.0 Z" fill="#7a7a7a" stroke="#222" stroke-width="0.8" stroke-linejoin="round"/>
<path d="M114.6 117.5 L121.5 118.0 L128.5 116.9 L130.8 115.6 L133.1 116.9 L135.4 117.5 L142.3 118.6 L144.0 122.3 L142.3 126.9 L138.8 129.5 L130.8 131.3 L121.5 130.6 L115.2 130.6 Z" fill="#0c0c0c" stroke="#000" stroke-width="0.5" stroke-linejoin="round"/>
<path d="M144.6 120.6 L150.4 121.2 L156.2 122.5 L155.6 124.6 L149.2 125.8 L144.6 125.5 Z" fill="#bbb" stroke="#000" stroke-width="0.6" stroke-linejoin="round"/>
<ellipse cx="125" cy="124" rx="4" ry="1.5" fill="#444"/>
<ellipse cx="136" cy="123.5" rx="2.5" ry="1.2" fill="#3a3a3a"/>
<rect x="114" y="116" width="1.6" height="16" fill="#000"/>
<rect x="143.5" y="113.8" width="23.1" height="20.2" fill="none" stroke="#000" stroke-width="1"/>
<text x="150.3" y="112.8" font-size="6" font-weight="bold" text-anchor="start">9.6</text>
<path d="M194.3 117.5 L197.7 113.2 L209.2 111.0 L218.8 111.7 L228.5 111.7 L233.1 115.6 L233.1 121.3 L228.5 125.2 L218.8 125.7 L216.4 126.6 L213.1 128.1 L208.3 131.9 L205.4 136.7 L202.5 142.0 L199.6 143.5 L196.7 140.6 L194.3 133.8 L193.8 124.2 Z" fill="none" stroke="#000" stroke-width="0.7" stroke-linejoin="round"/>
<path d="M194.7 117.3 L198.2 113.1 L209.2 111.1 L218.8 111.8 L228.5 111.8 L232.9 115.6 L232.9 121.3 L228.5 125.1 L218.8 125.6 L216.2 126.5 L212.8 127.9 L208.3 131.2 L205.4 135.3 L202.5 139.7 L199.6 140.8 L196.9 138.1 L194.7 132.1 L194.3 123.4 Z" fill="none" stroke="#000" stroke-width="0.7" stroke-linejoin="round"/>
<path d="M195.1 117.2 L198.7 112.9 L209.2 111.2 L218.8 111.9 L228.5 111.9 L232.8 115.6 L232.8 121.3 L228.5 125.0 L218.8 125.5 L216.0 126.4 L212.4 127.7 L208.3 130.5 L205.4 133.8 L202.5 137.4 L199.6 138.1 L197.1 135.6 L195.1 130.3 L194.7 122.6 Z" fill="none" stroke="#000" stroke-width="0.7" stroke-linejoin="round"/>
<path d="M195.5 117.0 L199.1 112.8 L209.2 111.2 L218.8 112.0 L228.5 112.0 L232.7 115.6 L232.7 121.3 L228.5 125.0 L218.8 125.4 L215.7 126.3 L212.1 127.5 L208.3 129.8 L205.4 132.4 L202.5 135.0 L199.6 135.4 L197.2 133.1 L195.5 128.6 L195.2 121.8 Z" fill="none" stroke="#000" stroke-width="0.7" stroke-linejoin="round"/>
<path d="M195.9 116.9 L199.6 112.7 L209.2 111.3 L218.8 112.1 L228.5 112.1 L232.6 115.6 L232.6 121.3 L228.5 124.9 L218.8 125.4 L215.5 126.2 L211.8 127.3 L208.3 129.1 L205.4 131.0 L202.5 132.7 L199.6 132.7 L197.4 130.6 L195.9 126.8 L195.6 121.0 Z" fill="none" stroke="#000" stroke-width="0.7" stroke-linejoin="round"/>
<path d="M196.3 116.7 L200.1 112.6 L209.2 111.4 L218.8 112.2 L228.5 112.2 L232.4 115.6 L232.4 121.3 L228.5 124.8 L218.8 125.3 L215.2 126.1 L211.5 127.1 L208.3 128.4 L205.4 129.5 L202.5 130.4 L199.6 130.0 L197.5 128.2 L196.3 125.0 L196.1 120.2 Z" fill="none" stroke="#000" stroke-width="0.7" stroke-linejoin="round"/>
<path d="M196.7 115.6 L200.6 112.2 L209.2 111.2 L218.8 112.2 L228.5 112.2 L232.3 115.6 L232.3 121.3 L228.5 124.7 L218.8 125.2 L214.0 126.2 L209.2 127.3 L204.4 127.7 L199.6 126.9 L197.2 123.3 Z" fill="#080808" stroke="#000" stroke-width="0.5" stroke-linejoin="round"/>
<ellipse cx="206" cy="119" rx="4" ry="3" fill="#2a2a2a"/>
<ellipse cx="222" cy="119.5" rx="3" ry="1.3" fill="#777"/>
<ellipse cx="224" cy="119.5" rx="1.5" ry="0.8" fill="#ccc"/>
<line x1="216.4" y1="90" x2="216.4" y2="157.2" stroke="#666" stroke-width="1.0"/>
<line x1="190.5" y1="125.7" x2="254.6" y2="125.7" stroke="#666" stroke-width="1.0"/>
<text x="191.8" y="96.9" font-size="6" font-weight="bold" text-anchor="start">49.2</text>
<text x="258.9" y="96.9" font-size="6" font-weight="bold" text-anchor="end">35.8</text>
<text x="192.8" y="156" font-size="6" font-weight="bold" text-anchor="start">14.8</text>
<text x="258" y="156" font-size="6" font-weight="bold" text-anchor="end">0.17</text>
<path d="M268.3 156.9 L270.0 151.4 L271.6 143.6 L273.3 131.5 L274.4 124.8 L276.1 127.0 L277.2 129.2 L278.8 132.6 L280.5 135.9 L282.1 145.3 L283.3 142.5 L284.9 139.2 L286.6 139.2 L288.2 135.9 L289.3 133.7 L290.4 120.4 L291.5 118.2 L292.7 127.0 L293.2 118.2 L294.3 114.9 L296.5 107.1 L298.0 99.4 L298.7 96.1 L299.3 89.6 L299.7 96.1 L300.2 99.4 L301.5 114.9 L303.2 119.3 L304.3 122.6 L305.4 131.5 L306.5 142.5 L307.6 151.4 L309.2 156.9" fill="none" stroke="#000" stroke-width="1.05" stroke-linejoin="round"/>
<path d="M294.9 103.4 L294.9 105.6" stroke="#000" stroke-width="0.8"/>
<rect x="270.6" y="111.6" width="13" height="5.3" fill="#fff"/>
<rect x="291.8" y="107.2" width="13.2" height="5.8" fill="#fff"/>
<line x1="268.4" y1="118.25" x2="285.7" y2="118.25" stroke="#000" stroke-width="1.0"/>
<line x1="268.4" y1="116.7" x2="268.4" y2="119.8" stroke="#000" stroke-width="1.0"/>
<line x1="285.7" y1="116.7" x2="285.7" y2="119.8" stroke="#000" stroke-width="1.0"/>
<line x1="286.2" y1="114.1" x2="311.2" y2="114.1" stroke="#000" stroke-width="1.0"/>
<line x1="286.2" y1="112.5" x2="286.2" y2="115.7" stroke="#000" stroke-width="1.0"/>
<line x1="311.2" y1="112.5" x2="311.2" y2="115.7" stroke="#000" stroke-width="1.0"/>
<text x="271.2" y="116.4" font-size="6.2" font-weight="bold" text-anchor="start">28.8</text>
<text x="292.4" y="112.5" font-size="6.2" font-weight="bold" text-anchor="start">69.3</text>
<path d="M25.9 176.2 L25.9 148.2" stroke="#000" stroke-width="1.4" fill="none"/>
<path d="M23.299999999999997 148.79999999999998 L25.9 144.2 L28.5 148.79999999999998 Z" fill="#000"/>
<path d="M25.2 176.2 L54.5 176.2" stroke="#000" stroke-width="1.4" fill="none"/>
<path d="M53.9 173.79999999999998 L58.5 176.2 L53.9 178.6 Z" fill="#000"/>
<path d="M110.1 177.9 L110.1 150.6" stroke="#000" stroke-width="1.4" fill="none"/>
<path d="M107.5 151.2 L110.1 146.6 L112.69999999999999 151.2 Z" fill="#000"/>
<path d="M109.39999999999999 177.9 L139 177.9" stroke="#000" stroke-width="1.4" fill="none"/>
<path d="M138.4 175.5 L143 177.9 L138.4 180.3 Z" fill="#000"/>
<path d="M189.5 179.4 L189.5 153.8" stroke="#000" stroke-width="1.4" fill="none"/>
<path d="M186.9 154.4 L189.5 149.8 L192.1 154.4 Z" fill="#000"/>
<path d="M188.8 179.4 L218.5 179.4" stroke="#000" stroke-width="1.4" fill="none"/>
<path d="M217.9 177.0 L222.5 179.4 L217.9 181.8 Z" fill="#000"/>
<path d="M279.2 179 L308 179" stroke="#000" stroke-width="1.4"/>
<path d="M307.5 176.6 L312.5 179 L307.5 181.4 Z" fill="#000"/>
<text x="23.3" y="176" font-size="8.5" font-weight="bold" text-anchor="start" transform="rotate(-90 23.3 176)">c-kit</text>
<text x="27.9" y="185.4" font-size="8.7" font-weight="bold" text-anchor="start">Lineage</text>
<text x="106.9" y="176.5" font-size="8.5" font-weight="bold" text-anchor="start" transform="rotate(-90 106.9 176.5)">c-kit</text>
<text x="112.2" y="186.5" font-size="8.7" font-weight="bold" text-anchor="start">Sca-1</text>
<text x="187" y="179.4" font-size="9" font-weight="bold" text-anchor="start" transform="rotate(-90 187 179.4)">CD34</text>
<text x="193.3" y="188.5" font-size="9" font-weight="bold" text-anchor="start">Flk2</text>
<text x="279.8" y="189.3" font-size="9.5" font-weight="bold" text-anchor="start">CD150</text>
<text x="382" y="16.2" font-size="11.8" font-weight="bold">LSK CD34<tspan font-size="7" dy="-4.3">-</tspan><tspan dy="4.3"> Flk2</tspan><tspan font-size="7" dy="-4.3">-</tspan><tspan dy="4.3"> CD150</tspan><tspan font-size="7" dy="-4.3">+</tspan></text>
<line x1="402" y1="149.9" x2="520" y2="149.9" stroke="#e4e4e4" stroke-width="1.3"/>
<line x1="402" y1="126.00000000000001" x2="520" y2="126.00000000000001" stroke="#e4e4e4" stroke-width="1.3"/>
<line x1="402" y1="102.10000000000002" x2="520" y2="102.10000000000002" stroke="#e4e4e4" stroke-width="1.3"/>
<line x1="402" y1="78.20000000000002" x2="520" y2="78.20000000000002" stroke="#e4e4e4" stroke-width="1.3"/>
<line x1="402" y1="54.30000000000001" x2="520" y2="54.30000000000001" stroke="#e4e4e4" stroke-width="1.3"/>
<line x1="402" y1="30.400000000000034" x2="520" y2="30.400000000000034" stroke="#e4e4e4" stroke-width="1.3"/>
<line x1="401.9" y1="30.4" x2="401.9" y2="174.5" stroke="#000" stroke-width="1.1"/>
<line x1="401.3" y1="173.8" x2="520" y2="173.8" stroke="#000" stroke-width="1.1"/>
<line x1="399.2" y1="173.8" x2="402" y2="173.8" stroke="#000" stroke-width="1.1"/>
<text x="393.1" y="178.10000000000002" font-size="9.8" text-anchor="end">0</text>
<line x1="399.2" y1="149.9" x2="402" y2="149.9" stroke="#000" stroke-width="1.1"/>
<text x="393.1" y="154.20000000000002" font-size="9.8" text-anchor="end">0.005</text>
<line x1="399.2" y1="126.00000000000001" x2="402" y2="126.00000000000001" stroke="#000" stroke-width="1.1"/>
<text x="393.1" y="130.3" font-size="9.8" text-anchor="end">0.01</text>
<line x1="399.2" y1="102.10000000000002" x2="402" y2="102.10000000000002" stroke="#000" stroke-width="1.1"/>
<text x="393.1" y="106.40000000000002" font-size="9.8" text-anchor="end">0.015</text>
<line x1="399.2" y1="78.20000000000002" x2="402" y2="78.20000000000002" stroke="#000" stroke-width="1.1"/>
<text x="393.1" y="82.50000000000001" font-size="9.8" text-anchor="end">0.02</text>
<line x1="399.2" y1="54.30000000000001" x2="402" y2="54.30000000000001" stroke="#000" stroke-width="1.1"/>
<text x="393.1" y="58.60000000000001" font-size="9.8" text-anchor="end">0.025</text>
<line x1="399.2" y1="30.400000000000034" x2="402" y2="30.400000000000034" stroke="#000" stroke-width="1.1"/>
<text x="393.1" y="34.70000000000003" font-size="9.8" text-anchor="end">0.03</text>
<line x1="401.9" y1="173.8" x2="401.9" y2="176.3" stroke="#000" stroke-width="1.1"/>
<line x1="431.3" y1="173.8" x2="431.3" y2="176.3" stroke="#000" stroke-width="1.1"/>
<line x1="460.7" y1="173.8" x2="460.7" y2="176.3" stroke="#000" stroke-width="1.1"/>
<line x1="490.1" y1="173.8" x2="490.1" y2="176.3" stroke="#000" stroke-width="1.1"/>
<line x1="519.5" y1="173.8" x2="519.5" y2="176.3" stroke="#000" stroke-width="1.1"/>
<text x="437.0" y="187.0" font-size="11" font-weight="bold" text-anchor="middle">WT</text>
<text x="476.3" y="187.0" font-size="11" font-weight="bold">M40<tspan font-size="7.8" dy="-4.3">-/-</tspan></text>
<text x="362.8" y="101.8" font-size="12" font-weight="bold" text-anchor="middle" transform="rotate(-90 362.8 101.8)">Frequency</text>
<text x="423.6" y="68.3" font-size="13.9" text-anchor="start">p &lt; 0.02</text>
<path d="M431.9 84.7L435.9 88.7L431.9 92.7L427.9 88.7Z" fill="#000"/>
<path d="M437.1 82.7L441.1 86.7L437.1 90.7L433.1 86.7Z" fill="#000"/>
<path d="M426.2 106.8L430.2 110.8L426.2 114.8L422.2 110.8Z" fill="#000"/>
<path d="M432.3 108.7L436.3 112.7L432.3 116.7L428.3 112.7Z" fill="#000"/>
<path d="M431.9 122.2L435.9 126.2L431.9 130.2L427.9 126.2Z" fill="#000"/>
<line x1="428.8" y1="104.6" x2="435.8" y2="104.6" stroke="#000" stroke-width="1.6"/>
<circle cx="490.5" cy="31.5" r="3.4" fill="#fff" stroke="#000" stroke-width="0.8"/>
<circle cx="490.5" cy="47.9" r="3.4" fill="#fff" stroke="#000" stroke-width="0.8"/>
<circle cx="484.6" cy="63.5" r="3.4" fill="#fff" stroke="#000" stroke-width="0.8"/>
<circle cx="490.5" cy="63.4" r="3.4" fill="#fff" stroke="#000" stroke-width="0.8"/>
<circle cx="490.5" cy="72.9" r="3.4" fill="#fff" stroke="#000" stroke-width="0.8"/>
<line x1="487.3" y1="55.6" x2="493.9" y2="55.6" stroke="#000" stroke-width="1.7"/>
<text x="-1.6" y="218.0" font-size="17" font-weight="bold" text-anchor="start" style="stroke-width:0.9px">B</text>
<rect x="25.8" y="234.9" width="263.2" height="22.200000000000017" fill="#cdcdcd"/>
<rect x="25.8" y="279.3" width="263.2" height="22.399999999999977" fill="#cdcdcd"/>
<rect x="25.8" y="323.8" width="263.2" height="22.399999999999977" fill="#cdcdcd"/>
<line x1="24.85" y1="213.9" x2="289.95" y2="213.9" stroke="#000" stroke-width="1.9"/>
<line x1="24.85" y1="234.9" x2="289.95" y2="234.9" stroke="#000" stroke-width="1.9"/>
<line x1="24.85" y1="257.1" x2="289.95" y2="257.1" stroke="#000" stroke-width="1.9"/>
<line x1="24.85" y1="279.3" x2="289.95" y2="279.3" stroke="#000" stroke-width="1.9"/>
<line x1="24.85" y1="301.7" x2="289.95" y2="301.7" stroke="#000" stroke-width="1.9"/>
<line x1="24.85" y1="323.8" x2="289.95" y2="323.8" stroke="#000" stroke-width="1.9"/>
<line x1="24.85" y1="346.2" x2="289.95" y2="346.2" stroke="#000" stroke-width="1.9"/>
<line x1="24.85" y1="367.9" x2="289.95" y2="367.9" stroke="#000" stroke-width="1.9"/>
<line x1="24.85" y1="404.4" x2="289.95" y2="404.4" stroke="#000" stroke-width="1.9"/>
<line x1="24.85" y1="426.0" x2="289.95" y2="426.0" stroke="#000" stroke-width="1.9"/>
<line x1="25.8" y1="213.9" x2="25.8" y2="426.0" stroke="#000" stroke-width="1.9"/>
<line x1="289.0" y1="213.9" x2="289.0" y2="426.0" stroke="#000" stroke-width="1.9"/>
<line x1="122.4" y1="213.9" x2="122.4" y2="426.0" stroke="#000" stroke-width="1.9"/>
<line x1="204.0" y1="213.9" x2="204.0" y2="404.4" stroke="#000" stroke-width="1.9"/>
<text x="74.10000000000001" y="230.2" font-size="11.5" font-weight="bold" text-anchor="middle">Dose</text>
<text x="163.2" y="230.2" font-size="11.5" font-weight="bold" text-anchor="middle">WT</text>
<text x="246.5" y="230.2" font-size="11.5" font-weight="bold" text-anchor="middle">M40<tspan font-size="7" dy="-4.5">-/-</tspan></text>
<text x="74.10000000000001" y="251.3" font-size="12" text-anchor="middle">3,000</text>
<text x="163.2" y="251.3" font-size="11.8" font-weight="bold" text-anchor="middle">1/9</text>
<text x="246.5" y="251.3" font-size="11.8" font-weight="bold" text-anchor="middle">0/11</text>
<text x="74.10000000000001" y="273.5" font-size="12" text-anchor="middle">10,000</text>
<text x="163.2" y="273.5" font-size="11.8" font-weight="bold" text-anchor="middle">6/12</text>
<text x="246.5" y="273.5" font-size="11.8" font-weight="bold" text-anchor="middle">6/11</text>
<text x="74.10000000000001" y="295.7" font-size="12" text-anchor="middle">30,000</text>
<text x="163.2" y="295.7" font-size="11.8" font-weight="bold" text-anchor="middle">11/18</text>
<text x="246.5" y="295.7" font-size="11.8" font-weight="bold" text-anchor="middle">21/21</text>
<text x="74.10000000000001" y="318.09999999999997" font-size="12" text-anchor="middle">100,000</text>
<text x="163.2" y="318.09999999999997" font-size="11.8" font-weight="bold" text-anchor="middle">7/7</text>
<text x="246.5" y="318.09999999999997" font-size="11.8" font-weight="bold" text-anchor="middle">12/12</text>
<text x="74.10000000000001" y="340.2" font-size="12" text-anchor="middle">300,000</text>
<text x="163.2" y="340.2" font-size="11.8" font-weight="bold" text-anchor="middle">7/7</text>
<text x="246.5" y="340.2" font-size="11.8" font-weight="bold" text-anchor="middle">5/5</text>
<text x="74.10000000000001" y="362.09999999999997" font-size="12" font-weight="bold" text-anchor="middle">CRU</text>
<text x="163.2" y="362.09999999999997" font-size="12" font-weight="bold" text-anchor="middle">1 in 24,636</text>
<text x="246.5" y="362.09999999999997" font-size="12" font-weight="bold" text-anchor="middle">1 in 10,902</text>
<text x="74.10000000000001" y="383.8" font-size="11.8" text-anchor="middle">Range defined</text>
<text x="74.10000000000001" y="396.8" font-size="11.8" text-anchor="middle">by ± 1SE</text>
<text x="163.2" y="383.6" font-size="10.7" text-anchor="middle">1 in 31,138 to</text>
<text x="163.2" y="395.4" font-size="10.7" text-anchor="middle">1 in 19,492</text>
<text x="246.5" y="383.6" font-size="10.7" text-anchor="middle">1 in 13,654 to</text>
<text x="246.5" y="395.4" font-size="10.7" text-anchor="middle">1 in 8,704</text>
<text x="74.10000000000001" y="419.7" font-size="11.6" text-anchor="middle">2-tailed t-test</text>
<text x="205.7" y="419.7" font-size="11.6" text-anchor="middle">p&lt;0.01</text>
<text x="318.6" y="218.6" font-size="17.5" font-weight="bold" text-anchor="start" style="stroke-width:0.9px">C</text>
<line x1="362.4" y1="218.9" x2="362.4" y2="397" stroke="#000" stroke-width="1.2"/>
<line x1="361.79999999999995" y1="396.5" x2="504.4" y2="396.5" stroke="#000" stroke-width="1.2"/>
<line x1="359.59999999999997" y1="396.5" x2="362.4" y2="396.5" stroke="#000" stroke-width="1.2"/>
<text x="353.3" y="401.0" font-size="11.4" text-anchor="end">0</text>
<line x1="359.59999999999997" y1="374.25" x2="362.4" y2="374.25" stroke="#000" stroke-width="1.2"/>
<text x="353.3" y="378.75" font-size="11.4" text-anchor="end">10</text>
<line x1="359.59999999999997" y1="352.0" x2="362.4" y2="352.0" stroke="#000" stroke-width="1.2"/>
<text x="353.3" y="356.5" font-size="11.4" text-anchor="end">20</text>
<line x1="359.59999999999997" y1="329.75" x2="362.4" y2="329.75" stroke="#000" stroke-width="1.2"/>
<text x="353.3" y="334.25" font-size="11.4" text-anchor="end">30</text>
<line x1="359.59999999999997" y1="307.5" x2="362.4" y2="307.5" stroke="#000" stroke-width="1.2"/>
<text x="353.3" y="312.0" font-size="11.4" text-anchor="end">40</text>
<line x1="359.59999999999997" y1="285.25" x2="362.4" y2="285.25" stroke="#000" stroke-width="1.2"/>
<text x="353.3" y="289.75" font-size="11.4" text-anchor="end">50</text>
<line x1="359.59999999999997" y1="263.0" x2="362.4" y2="263.0" stroke="#000" stroke-width="1.2"/>
<text x="353.3" y="267.5" font-size="11.4" text-anchor="end">60</text>
<line x1="359.59999999999997" y1="240.75" x2="362.4" y2="240.75" stroke="#000" stroke-width="1.2"/>
<text x="353.3" y="245.25" font-size="11.4" text-anchor="end">70</text>
<line x1="359.59999999999997" y1="218.5" x2="362.4" y2="218.5" stroke="#000" stroke-width="1.2"/>
<text x="353.3" y="223.0" font-size="11.4" text-anchor="end">80</text>
<line x1="394.5" y1="396.5" x2="394.5" y2="398.8" stroke="#000" stroke-width="1.0"/>
<line x1="425.8" y1="396.5" x2="425.8" y2="398.8" stroke="#000" stroke-width="1.0"/>
<line x1="457.4" y1="396.5" x2="457.4" y2="398.8" stroke="#000" stroke-width="1.0"/>
<line x1="489.0" y1="396.5" x2="489.0" y2="398.8" stroke="#000" stroke-width="1.0"/>
<text x="336" y="317.5" font-size="11.7" font-weight="bold" text-anchor="middle" transform="rotate(-90 336 317.5)">% Donor derived cells</text>
<line x1="393.2" y1="299.8" x2="422.6" y2="299.8" stroke="#000" stroke-width="1.9"/>
<text x="409.3" y="302.3" font-size="15" font-weight="bold" text-anchor="middle" letter-spacing="1.5">**</text>
<line x1="457.4" y1="299.8" x2="487.2" y2="299.8" stroke="#000" stroke-width="1.9"/>
<text x="472.3" y="302.3" font-size="15" font-weight="bold" text-anchor="middle">*</text>
<path d="M394.5 355.9L398.1 359.5L394.5 363.1L390.9 359.5Z" fill="#000"/>
<path d="M394.5 367.6L398.1 371.2L394.5 374.8L390.9 371.2Z" fill="#000"/>
<path d="M391.0 374.4L394.6 378.0L391.0 381.6L387.4 378.0Z" fill="#000"/>
<path d="M400.5 378.2L404.1 381.8L400.5 385.4L396.9 381.8Z" fill="#000"/>
<path d="M394.5 380.9L398.1 384.5L394.5 388.1L390.9 384.5Z" fill="#000"/>
<path d="M394.5 387.1L398.1 390.7L394.5 394.3L390.9 390.7Z" fill="#000"/>
<path d="M388.5 387.9L392.1 391.5L388.5 395.1L384.9 391.5Z" fill="#000"/>
<path d="M381.6 391.5L385.2 395.1L381.6 398.7L378.0 395.1Z" fill="#000"/>
<path d="M386.1 391.5L389.7 395.1L386.1 398.7L382.5 395.1Z" fill="#000"/>
<path d="M390.5 391.5L394.1 395.1L390.5 398.7L386.9 395.1Z" fill="#000"/>
<path d="M394.5 391.5L398.1 395.1L394.5 398.7L390.9 395.1Z" fill="#000"/>
<path d="M398.3 391.5L401.9 395.1L398.3 398.7L394.7 395.1Z" fill="#000"/>
<path d="M402.7 391.5L406.3 395.1L402.7 398.7L399.1 395.1Z" fill="#000"/>
<path d="M407.1 391.5L410.7 395.1L407.1 398.7L403.5 395.1Z" fill="#000"/>
<line x1="393.5" y1="382.5" x2="402.5" y2="382.5" stroke="#000" stroke-width="1.6"/>
<circle cx="422.6" cy="260.6" r="3.3" fill="#fff" stroke="#000" stroke-width="1.1"/>
<circle cx="429.3" cy="260.6" r="3.3" fill="#fff" stroke="#000" stroke-width="1.1"/>
<circle cx="426.0" cy="271.5" r="3.3" fill="#fff" stroke="#000" stroke-width="1.1"/>
<circle cx="428.2" cy="281.0" r="3.3" fill="#fff" stroke="#000" stroke-width="1.1"/>
<circle cx="426.0" cy="284.3" r="3.3" fill="#fff" stroke="#000" stroke-width="1.1"/>
<circle cx="426.0" cy="314.9" r="3.3" fill="#fff" stroke="#000" stroke-width="1.1"/>
<circle cx="426.0" cy="332.4" r="3.3" fill="#fff" stroke="#000" stroke-width="1.1"/>
<circle cx="426.0" cy="347.5" r="3.3" fill="#fff" stroke="#000" stroke-width="1.1"/>
<circle cx="428.8" cy="352.6" r="3.3" fill="#fff" stroke="#000" stroke-width="1.1"/>
<circle cx="426.0" cy="360.1" r="3.3" fill="#fff" stroke="#000" stroke-width="1.1"/>
<circle cx="426.0" cy="366.3" r="3.3" fill="#fff" stroke="#000" stroke-width="1.1"/>
<circle cx="426.0" cy="371.4" r="3.3" fill="#fff" stroke="#000" stroke-width="1.1"/>
<circle cx="426.0" cy="380.7" r="3.3" fill="#fff" stroke="#000" stroke-width="1.1"/>
<circle cx="426.0" cy="386.2" r="3.3" fill="#fff" stroke="#000" stroke-width="1.1"/>
<circle cx="419.3" cy="391.8" r="3.3" fill="#fff" stroke="#000" stroke-width="1.1"/>
<circle cx="432.2" cy="389.1" r="3.3" fill="#fff" stroke="#000" stroke-width="1.1"/>
<circle cx="426.0" cy="390.7" r="3.3" fill="#fff" stroke="#000" stroke-width="1.1"/>
<line x1="421.5" y1="338.2" x2="430.4" y2="338.2" stroke="#000" stroke-width="1.7"/>
<path d="M457.4 314.2L461.0 317.8L457.4 321.4L453.8 317.8Z" fill="#000"/>
<path d="M457.4 329.6L461.0 333.2L457.4 336.8L453.8 333.2Z" fill="#000"/>
<path d="M457.4 347.3L461.0 350.9L457.4 354.5L453.8 350.9Z" fill="#000"/>
<path d="M464.6 352.6L468.2 356.2L464.6 359.8L461.0 356.2Z" fill="#000"/>
<path d="M464.6 373.6L468.2 377.2L464.6 380.8L461.0 377.2Z" fill="#000"/>
<path d="M457.4 375.8L461.0 379.4L457.4 383.0L453.8 379.4Z" fill="#000"/>
<path d="M457.4 382.3L461.0 385.9L457.4 389.5L453.8 385.9Z" fill="#000"/>
<line x1="454" y1="357" x2="462.4" y2="357" stroke="#000" stroke-width="1.7"/>
<circle cx="489.0" cy="229.0" r="3.3" fill="#fff" stroke="#000" stroke-width="1.1"/>
<circle cx="489.0" cy="273.8" r="3.3" fill="#fff" stroke="#000" stroke-width="1.1"/>
<circle cx="489.0" cy="280.0" r="3.3" fill="#fff" stroke="#000" stroke-width="1.1"/>
<circle cx="484.8" cy="308.6" r="3.3" fill="#fff" stroke="#000" stroke-width="1.1"/>
<circle cx="491.8" cy="305.8" r="3.3" fill="#fff" stroke="#000" stroke-width="1.1"/>
<circle cx="493.8" cy="319.2" r="3.3" fill="#fff" stroke="#000" stroke-width="1.1"/>
<circle cx="489.0" cy="340.2" r="3.3" fill="#fff" stroke="#000" stroke-width="1.1"/>
<circle cx="489.0" cy="344.4" r="3.3" fill="#fff" stroke="#000" stroke-width="1.1"/>
<circle cx="489.0" cy="350.0" r="3.3" fill="#fff" stroke="#000" stroke-width="1.1"/>
<circle cx="491.8" cy="359.8" r="3.3" fill="#fff" stroke="#000" stroke-width="1.1"/>
<circle cx="489.0" cy="362.6" r="3.3" fill="#fff" stroke="#000" stroke-width="1.1"/>
<circle cx="489.0" cy="375.2" r="3.3" fill="#fff" stroke="#000" stroke-width="1.1"/>
<line x1="486.2" y1="320.6" x2="493.2" y2="320.6" stroke="#000" stroke-width="1.7"/>
<text x="392" y="412.7" font-size="11.6" text-anchor="middle">WT</text>
<text x="412.3" y="412.7" font-size="11.6">M40<tspan font-size="7" dy="-4.5">-/-</tspan></text>
<text x="460" y="412.7" font-size="11.6" text-anchor="middle">WT</text>
<text x="478.5" y="412.7" font-size="11.6">M40<tspan font-size="7" dy="-4.5">-/-</tspan></text>
<line x1="383.1" y1="416.7" x2="441" y2="416.7" stroke="#000" stroke-width="1.4"/>
<line x1="451.7" y1="416.7" x2="509.6" y2="416.7" stroke="#000" stroke-width="1.4"/>
<text x="412" y="432.7" font-size="11.9" font-weight="bold" text-anchor="middle">30,000</text>
<text x="481.1" y="432.7" font-size="11.9" font-weight="bold" text-anchor="middle">100,000</text>
<text x="-1.4" y="465.8" font-size="17" font-weight="bold" text-anchor="start" style="stroke-width:0.9px">D</text>
<line x1="42.0" y1="466.5" x2="42.0" y2="635.2" stroke="#000" stroke-width="1.2"/>
<line x1="40.5" y1="634.7" x2="172.6" y2="634.7" stroke="#000" stroke-width="1.2"/>
<line x1="39.2" y1="634.7" x2="42.0" y2="634.7" stroke="#000" stroke-width="1.2"/>
<text x="34.2" y="639.0" font-size="10" font-weight="bold" text-anchor="end">0</text>
<line x1="39.2" y1="610.6800000000001" x2="42.0" y2="610.6800000000001" stroke="#000" stroke-width="1.2"/>
<text x="34.2" y="614.98" font-size="10" font-weight="bold" text-anchor="end">2</text>
<line x1="39.2" y1="586.6600000000001" x2="42.0" y2="586.6600000000001" stroke="#000" stroke-width="1.2"/>
<text x="34.2" y="590.96" font-size="10" font-weight="bold" text-anchor="end">4</text>
<line x1="39.2" y1="562.6400000000001" x2="42.0" y2="562.6400000000001" stroke="#000" stroke-width="1.2"/>
<text x="34.2" y="566.94" font-size="10" font-weight="bold" text-anchor="end">6</text>
<line x1="39.2" y1="538.62" x2="42.0" y2="538.62" stroke="#000" stroke-width="1.2"/>
<text x="34.2" y="542.92" font-size="10" font-weight="bold" text-anchor="end">8</text>
<line x1="39.2" y1="514.6" x2="42.0" y2="514.6" stroke="#000" stroke-width="1.2"/>
<text x="34.2" y="518.9" font-size="10" font-weight="bold" text-anchor="end">10</text>
<line x1="39.2" y1="490.58000000000004" x2="42.0" y2="490.58000000000004" stroke="#000" stroke-width="1.2"/>
<text x="34.2" y="494.88000000000005" font-size="10" font-weight="bold" text-anchor="end">12</text>
<line x1="39.2" y1="466.56000000000006" x2="42.0" y2="466.56000000000006" stroke="#000" stroke-width="1.2"/>
<text x="34.2" y="470.86000000000007" font-size="10" font-weight="bold" text-anchor="end">14</text>
<line x1="67.5" y1="634.7" x2="67.5" y2="636.9000000000001" stroke="#000" stroke-width="1.0"/>
<line x1="94.4" y1="634.7" x2="94.4" y2="636.9000000000001" stroke="#000" stroke-width="1.0"/>
<line x1="120.5" y1="634.7" x2="120.5" y2="636.9000000000001" stroke="#000" stroke-width="1.0"/>
<line x1="146.5" y1="634.7" x2="146.5" y2="636.9000000000001" stroke="#000" stroke-width="1.0"/>
<text x="16.3" y="560.5" font-size="11.8" text-anchor="middle" transform="rotate(-90 16.3 560.5)">% Donor derived cells</text>
<text x="108.1" y="464.3" font-size="13.7" font-weight="bold" text-anchor="middle">Myeloid</text>
<line x1="61.8" y1="521.0" x2="93.5" y2="521.0" stroke="#000" stroke-width="1.9"/>
<text x="78.6" y="518.4" font-size="15" font-weight="bold" text-anchor="middle">*</text>
<line x1="116.4" y1="521.0" x2="148.9" y2="521.0" stroke="#000" stroke-width="1.9"/>
<text x="135.4" y="518.4" font-size="15" font-weight="bold" text-anchor="middle">*</text>
<path d="M67.9 598.9L71.3 602.3L67.9 605.7L64.5 602.3Z" fill="#000"/>
<path d="M63.8 607.2L67.2 610.6L63.8 614.0L60.4 610.6Z" fill="#000"/>
<path d="M67.5 606.6L70.9 610.0L67.5 613.4L64.1 610.0Z" fill="#000"/>
<path d="M71.9 609.1L75.3 612.5L71.9 615.9L68.5 612.5Z" fill="#000"/>
<path d="M63.8 623.9L67.2 627.2L63.8 630.6L60.4 627.2Z" fill="#000"/>
<path d="M71.2 623.9L74.7 627.2L71.2 630.6L67.8 627.2Z" fill="#000"/>
<path d="M54.4 630.6L57.8 634.0L54.4 637.4L51.0 634.0Z" fill="#000"/>
<path d="M57.9 630.6L61.2 634.0L57.9 637.4L54.5 634.0Z" fill="#000"/>
<path d="M61.3 630.6L64.7 634.0L61.3 637.4L57.9 634.0Z" fill="#000"/>
<path d="M64.8 630.6L68.2 634.0L64.8 637.4L61.4 634.0Z" fill="#000"/>
<path d="M68.2 630.6L71.6 634.0L68.2 637.4L64.8 634.0Z" fill="#000"/>
<path d="M71.7 630.6L75.1 634.0L71.7 637.4L68.2 634.0Z" fill="#000"/>
<path d="M75.1 630.6L78.5 634.0L75.1 637.4L71.7 634.0Z" fill="#000"/>
<path d="M78.5 630.6L82.0 634.0L78.5 637.4L75.1 634.0Z" fill="#000"/>
<path d="M82.0 630.6L85.4 634.0L82.0 637.4L78.6 634.0Z" fill="#000"/>
<line x1="65" y1="627.5" x2="70" y2="627.5" stroke="#000" stroke-width="1.6"/>
<circle cx="94.4" cy="490.4" r="3.45" fill="#fff" stroke="#000" stroke-width="1.1"/>
<circle cx="94.4" cy="528.6" r="3.45" fill="#fff" stroke="#000" stroke-width="1.1"/>
<circle cx="94.4" cy="557.8" r="3.45" fill="#fff" stroke="#000" stroke-width="1.1"/>
<circle cx="94.4" cy="571.7" r="3.45" fill="#fff" stroke="#000" stroke-width="1.1"/>
<circle cx="94.4" cy="600.0" r="3.45" fill="#fff" stroke="#000" stroke-width="1.1"/>
<circle cx="91.9" cy="606.4" r="3.45" fill="#fff" stroke="#000" stroke-width="1.1"/>
<circle cx="97.5" cy="606.9" r="3.45" fill="#fff" stroke="#000" stroke-width="1.1"/>
<circle cx="94.6" cy="613.1" r="3.45" fill="#fff" stroke="#000" stroke-width="1.1"/>
<circle cx="91.9" cy="616.9" r="3.45" fill="#fff" stroke="#000" stroke-width="1.1"/>
<circle cx="95.0" cy="619.4" r="3.45" fill="#fff" stroke="#000" stroke-width="1.1"/>
<circle cx="98.1" cy="620.6" r="3.45" fill="#fff" stroke="#000" stroke-width="1.1"/>
<circle cx="94.4" cy="623.8" r="3.45" fill="#fff" stroke="#000" stroke-width="1.1"/>
<circle cx="91.2" cy="628.1" r="3.45" fill="#fff" stroke="#000" stroke-width="1.1"/>
<circle cx="86.2" cy="633.1" r="3.45" fill="#fff" stroke="#000" stroke-width="1.1"/>
<circle cx="89.4" cy="633.1" r="3.45" fill="#fff" stroke="#000" stroke-width="1.1"/>
<circle cx="94.4" cy="633.1" r="3.45" fill="#fff" stroke="#000" stroke-width="1.1"/>
<circle cx="97.5" cy="633.1" r="3.45" fill="#fff" stroke="#000" stroke-width="1.1"/>
<circle cx="102.5" cy="631.2" r="3.45" fill="#fff" stroke="#000" stroke-width="1.1"/>
<line x1="89.4" y1="606.9" x2="100" y2="606.9" stroke="#000" stroke-width="1.8"/>
<path d="M120.3 568.8L123.7 572.2L120.3 575.6L116.9 572.2Z" fill="#000"/>
<path d="M117.6 608.3L121.0 611.7L117.6 615.1L114.2 611.7Z" fill="#000"/>
<path d="M123.1 608.3L126.5 611.7L123.1 615.1L119.7 611.7Z" fill="#000"/>
<path d="M125.3 623.3L128.7 626.7L125.3 630.1L121.9 626.7Z" fill="#000"/>
<path d="M121.2 625.9L124.6 629.3L121.2 632.7L117.8 629.3Z" fill="#000"/>
<path d="M115.2 627.9L118.6 631.3L115.2 634.7L111.8 631.3Z" fill="#000"/>
<path d="M120.3 631.1L123.7 634.5L120.3 637.9L116.9 634.5Z" fill="#000"/>
<line x1="116.1" y1="616" x2="125.3" y2="616" stroke="#000" stroke-width="1.7"/>
<circle cx="146.5" cy="533.3" r="3.45" fill="#fff" stroke="#000" stroke-width="1.1"/>
<circle cx="146.5" cy="549.9" r="3.45" fill="#fff" stroke="#000" stroke-width="1.1"/>
<circle cx="146.5" cy="562.1" r="3.45" fill="#fff" stroke="#000" stroke-width="1.1"/>
<circle cx="149.3" cy="565.2" r="3.45" fill="#fff" stroke="#000" stroke-width="1.1"/>
<circle cx="149.3" cy="583.1" r="3.45" fill="#fff" stroke="#000" stroke-width="1.1"/>
<circle cx="144.1" cy="590.5" r="3.45" fill="#fff" stroke="#000" stroke-width="1.1"/>
<circle cx="146.5" cy="594.8" r="3.45" fill="#fff" stroke="#000" stroke-width="1.1"/>
<circle cx="146.5" cy="605.8" r="3.45" fill="#fff" stroke="#000" stroke-width="1.1"/>
<circle cx="149.3" cy="608.2" r="3.45" fill="#fff" stroke="#000" stroke-width="1.1"/>
<circle cx="143.8" cy="610.5" r="3.45" fill="#fff" stroke="#000" stroke-width="1.1"/>
<circle cx="146.5" cy="611.9" r="3.45" fill="#fff" stroke="#000" stroke-width="1.1"/>
<circle cx="146.5" cy="634.5" r="3.45" fill="#fff" stroke="#000" stroke-width="1.1"/>
<line x1="141.9" y1="587.4" x2="150.2" y2="587.4" stroke="#000" stroke-width="1.7"/>
<text x="60.9" y="657.3" font-size="11.6" text-anchor="middle">WT</text>
<text x="80.4" y="657.3" font-size="11.6">M40<tspan font-size="7" dy="-4.5">-/-</tspan></text>
<text x="123.5" y="657.3" font-size="11.6" text-anchor="middle">WT</text>
<text x="142.3" y="657.3" font-size="11.6">M40<tspan font-size="7" dy="-4.5">-/-</tspan></text>
<line x1="52.5" y1="659.6" x2="101.3" y2="659.6" stroke="#000" stroke-width="1.4"/>
<line x1="116.3" y1="659.6" x2="162.5" y2="659.6" stroke="#000" stroke-width="1.4"/>
<text x="75.7" y="675.5" font-size="11.9" font-weight="bold" text-anchor="middle">30,000</text>
<text x="141.6" y="675.5" font-size="11.9" font-weight="bold" text-anchor="middle">100,000</text>
<line x1="212.0" y1="464.6" x2="212.0" y2="633.4" stroke="#000" stroke-width="1.2"/>
<line x1="210.5" y1="632.9" x2="342.6" y2="632.9" stroke="#000" stroke-width="1.2"/>
<line x1="209.2" y1="632.9" x2="212.0" y2="632.9" stroke="#000" stroke-width="1.2"/>
<text x="203.2" y="637.1999999999999" font-size="10" font-weight="bold" text-anchor="end">0</text>
<line x1="209.2" y1="604.85" x2="212.0" y2="604.85" stroke="#000" stroke-width="1.2"/>
<text x="203.2" y="609.15" font-size="10" font-weight="bold" text-anchor="end">10</text>
<line x1="209.2" y1="576.8" x2="212.0" y2="576.8" stroke="#000" stroke-width="1.2"/>
<text x="203.2" y="581.0999999999999" font-size="10" font-weight="bold" text-anchor="end">20</text>
<line x1="209.2" y1="548.75" x2="212.0" y2="548.75" stroke="#000" stroke-width="1.2"/>
<text x="203.2" y="553.05" font-size="10" font-weight="bold" text-anchor="end">30</text>
<line x1="209.2" y1="520.6999999999999" x2="212.0" y2="520.6999999999999" stroke="#000" stroke-width="1.2"/>
<text x="203.2" y="524.9999999999999" font-size="10" font-weight="bold" text-anchor="end">40</text>
<line x1="209.2" y1="492.65" x2="212.0" y2="492.65" stroke="#000" stroke-width="1.2"/>
<text x="203.2" y="496.95" font-size="10" font-weight="bold" text-anchor="end">50</text>
<line x1="209.2" y1="464.59999999999997" x2="212.0" y2="464.59999999999997" stroke="#000" stroke-width="1.2"/>
<text x="203.2" y="468.9" font-size="10" font-weight="bold" text-anchor="end">60</text>
<line x1="238.4" y1="632.9" x2="238.4" y2="635.1" stroke="#000" stroke-width="1.0"/>
<line x1="264.2" y1="632.9" x2="264.2" y2="635.1" stroke="#000" stroke-width="1.0"/>
<line x1="291.0" y1="632.9" x2="291.0" y2="635.1" stroke="#000" stroke-width="1.0"/>
<line x1="316.6" y1="632.9" x2="316.6" y2="635.1" stroke="#000" stroke-width="1.0"/>
<text x="275.3" y="464.5" font-size="13.7" font-weight="bold" text-anchor="middle">B cells</text>
<line x1="233.8" y1="498.1" x2="265.8" y2="498.1" stroke="#000" stroke-width="1.9"/>
<text x="250" y="495.7" font-size="15" font-weight="bold" text-anchor="middle" letter-spacing="1.5">***</text>
<line x1="289.0" y1="524.2" x2="322.0" y2="524.2" stroke="#000" stroke-width="1.9"/>
<text x="305.3" y="522.5" font-size="15" font-weight="bold" text-anchor="middle">*</text>
<path d="M238.2 571.7L241.6 575.1L238.2 578.5L234.8 575.1Z" fill="#000"/>
<path d="M238.2 599.4L241.6 602.8L238.2 606.2L234.8 602.8Z" fill="#000"/>
<path d="M236.1 603.7L239.5 607.1L236.1 610.5L232.7 607.1Z" fill="#000"/>
<path d="M241.0 606.9L244.4 610.3L241.0 613.7L237.6 610.3Z" fill="#000"/>
<path d="M233.5 618.7L236.9 622.1L233.5 625.5L230.1 622.1Z" fill="#000"/>
<path d="M244.2 619.7L247.6 623.1L244.2 626.5L240.8 623.1Z" fill="#000"/>
<path d="M238.2 622.9L241.6 626.3L238.2 629.7L234.8 626.3Z" fill="#000"/>
<path d="M228.2 628.3L231.6 631.7L228.2 635.1L224.8 631.7Z" fill="#000"/>
<path d="M231.6 628.3L235.0 631.7L231.6 635.1L228.2 631.7Z" fill="#000"/>
<path d="M235.0 628.3L238.4 631.7L235.0 635.1L231.6 631.7Z" fill="#000"/>
<path d="M238.4 628.3L241.8 631.7L238.4 635.1L235.0 631.7Z" fill="#000"/>
<path d="M241.8 628.3L245.2 631.7L241.8 635.1L238.4 631.7Z" fill="#000"/>
<path d="M245.2 628.3L248.6 631.7L245.2 635.1L241.8 631.7Z" fill="#000"/>
<path d="M233.5 625.1L236.9 628.5L233.5 631.9L230.1 628.5Z" fill="#000"/>
<path d="M240.0 625.6L243.4 629.0L240.0 632.4L236.6 629.0Z" fill="#000"/>
<line x1="231.4" y1="623.1" x2="245.3" y2="623.1" stroke="#000" stroke-width="1.6"/>
<circle cx="266.6" cy="507.4" r="3.45" fill="#fff" stroke="#000" stroke-width="1.1"/>
<circle cx="264.1" cy="510.0" r="3.45" fill="#fff" stroke="#000" stroke-width="1.1"/>
<circle cx="264.1" cy="517.4" r="3.45" fill="#fff" stroke="#000" stroke-width="1.1"/>
<circle cx="264.1" cy="535.6" r="3.45" fill="#fff" stroke="#000" stroke-width="1.1"/>
<circle cx="266.6" cy="545.6" r="3.45" fill="#fff" stroke="#000" stroke-width="1.1"/>
<circle cx="264.5" cy="547.3" r="3.45" fill="#fff" stroke="#000" stroke-width="1.1"/>
<circle cx="261.7" cy="550.5" r="3.45" fill="#fff" stroke="#000" stroke-width="1.1"/>
<circle cx="264.1" cy="579.8" r="3.45" fill="#fff" stroke="#000" stroke-width="1.1"/>
<circle cx="264.1" cy="594.3" r="3.45" fill="#fff" stroke="#000" stroke-width="1.1"/>
<circle cx="262.4" cy="597.5" r="3.45" fill="#fff" stroke="#000" stroke-width="1.1"/>
<circle cx="264.5" cy="603.9" r="3.45" fill="#fff" stroke="#000" stroke-width="1.1"/>
<circle cx="266.6" cy="606.0" r="3.45" fill="#fff" stroke="#000" stroke-width="1.1"/>
<circle cx="261.3" cy="611.4" r="3.45" fill="#fff" stroke="#000" stroke-width="1.1"/>
<circle cx="264.5" cy="613.5" r="3.45" fill="#fff" stroke="#000" stroke-width="1.1"/>
<circle cx="266.6" cy="617.8" r="3.45" fill="#fff" stroke="#000" stroke-width="1.1"/>
<circle cx="266.6" cy="625.3" r="3.45" fill="#fff" stroke="#000" stroke-width="1.1"/>
<circle cx="259.2" cy="628.5" r="3.45" fill="#fff" stroke="#000" stroke-width="1.1"/>
<circle cx="264.5" cy="627.8" r="3.45" fill="#fff" stroke="#000" stroke-width="1.1"/>
<line x1="260.2" y1="585.8" x2="268.8" y2="585.8" stroke="#000" stroke-width="1.7"/>
<path d="M291.3 587.2L294.7 590.6L291.3 594.0L287.9 590.6Z" fill="#000"/>
<path d="M290.6 598.7L294.0 602.1L290.6 605.5L287.2 602.1Z" fill="#000"/>
<path d="M288.3 606.1L291.7 609.5L288.3 612.9L284.9 609.5Z" fill="#000"/>
<path d="M293.0 618.3L296.4 621.7L293.0 625.1L289.6 621.7Z" fill="#000"/>
<path d="M289.4 621.9L292.8 625.3L289.4 628.7L286.0 625.3Z" fill="#000"/>
<path d="M291.5 620.1L294.9 623.5L291.5 626.9L288.1 623.5Z" fill="#000"/>
<line x1="287.0" y1="609.5" x2="295.4" y2="609.5" stroke="#000" stroke-width="1.7"/>
<circle cx="316.6" cy="490.6" r="3.45" fill="#fff" stroke="#000" stroke-width="1.1"/>
<circle cx="316.6" cy="509.5" r="3.45" fill="#fff" stroke="#000" stroke-width="1.1"/>
<circle cx="319.7" cy="511.2" r="3.45" fill="#fff" stroke="#000" stroke-width="1.1"/>
<circle cx="314.3" cy="573.3" r="3.45" fill="#fff" stroke="#000" stroke-width="1.1"/>
<circle cx="320.2" cy="580.4" r="3.45" fill="#fff" stroke="#000" stroke-width="1.1"/>
<circle cx="316.6" cy="582.0" r="3.45" fill="#fff" stroke="#000" stroke-width="1.1"/>
<circle cx="316.6" cy="590.3" r="3.45" fill="#fff" stroke="#000" stroke-width="1.1"/>
<circle cx="316.6" cy="600.5" r="3.45" fill="#fff" stroke="#000" stroke-width="1.1"/>
<circle cx="314.3" cy="610.0" r="3.45" fill="#fff" stroke="#000" stroke-width="1.1"/>
<circle cx="319.0" cy="611.1" r="3.45" fill="#fff" stroke="#000" stroke-width="1.1"/>
<circle cx="316.6" cy="617.0" r="3.45" fill="#fff" stroke="#000" stroke-width="1.1"/>
<line x1="313.0" y1="574.5" x2="322.0" y2="574.5" stroke="#000" stroke-width="1.7"/>
<text x="234.5" y="656.8" font-size="11.6" text-anchor="middle">WT</text>
<text x="252.2" y="656.8" font-size="11.6">M40<tspan font-size="7" dy="-4.5">-/-</tspan></text>
<text x="296.5" y="656.8" font-size="11.6" text-anchor="middle">WT</text>
<text x="315.3" y="656.8" font-size="11.6">M40<tspan font-size="7" dy="-4.5">-/-</tspan></text>
<line x1="227.3" y1="661.0" x2="274.9" y2="661.0" stroke="#000" stroke-width="1.4"/>
<line x1="290.8" y1="661.0" x2="338.5" y2="661.0" stroke="#000" stroke-width="1.4"/>
<text x="251.8" y="675.3" font-size="11.9" font-weight="bold" text-anchor="middle">30,000</text>
<text x="318.0" y="675.3" font-size="11.9" font-weight="bold" text-anchor="middle">100,000</text>
<line x1="376.0" y1="464.6" x2="376.0" y2="632.9" stroke="#000" stroke-width="1.2"/>
<line x1="374.5" y1="632.4" x2="506.5" y2="632.4" stroke="#000" stroke-width="1.2"/>
<line x1="373.2" y1="632.4" x2="376.0" y2="632.4" stroke="#000" stroke-width="1.2"/>
<text x="366.6" y="636.6999999999999" font-size="10" font-weight="bold" text-anchor="end">0</text>
<line x1="373.2" y1="598.85" x2="376.0" y2="598.85" stroke="#000" stroke-width="1.2"/>
<text x="366.6" y="603.15" font-size="10" font-weight="bold" text-anchor="end">5</text>
<line x1="373.2" y1="565.3" x2="376.0" y2="565.3" stroke="#000" stroke-width="1.2"/>
<text x="366.6" y="569.5999999999999" font-size="10" font-weight="bold" text-anchor="end">10</text>
<line x1="373.2" y1="531.75" x2="376.0" y2="531.75" stroke="#000" stroke-width="1.2"/>
<text x="366.6" y="536.05" font-size="10" font-weight="bold" text-anchor="end">15</text>
<line x1="373.2" y1="498.2" x2="376.0" y2="498.2" stroke="#000" stroke-width="1.2"/>
<text x="366.6" y="502.5" font-size="10" font-weight="bold" text-anchor="end">20</text>
<line x1="373.2" y1="464.65" x2="376.0" y2="464.65" stroke="#000" stroke-width="1.2"/>
<text x="366.6" y="468.95" font-size="10" font-weight="bold" text-anchor="end">25</text>
<line x1="402.3" y1="632.4" x2="402.3" y2="634.6" stroke="#000" stroke-width="1.0"/>
<line x1="428.6" y1="632.4" x2="428.6" y2="634.6" stroke="#000" stroke-width="1.0"/>
<line x1="454.0" y1="632.4" x2="454.0" y2="634.6" stroke="#000" stroke-width="1.0"/>
<line x1="479.6" y1="632.4" x2="479.6" y2="634.6" stroke="#000" stroke-width="1.0"/>
<text x="439.5" y="465.0" font-size="13.7" font-weight="bold" text-anchor="middle">T cells</text>
<line x1="395.2" y1="509.5" x2="427.9" y2="509.5" stroke="#000" stroke-width="1.9"/>
<text x="411.2" y="508.6" font-size="15" font-weight="bold" text-anchor="middle" letter-spacing="1.5">**</text>
<path d="M402.3 586.4L405.7 589.8L402.3 593.2L398.9 589.8Z" fill="#000"/>
<path d="M404.5 613.4L407.9 616.8L404.5 620.2L401.1 616.8Z" fill="#000"/>
<path d="M402.0 615.0L405.4 618.4L402.0 621.8L398.6 618.4Z" fill="#000"/>
<path d="M399.5 616.7L402.9 620.1L399.5 623.5L396.1 620.1Z" fill="#000"/>
<path d="M407.2 621.1L410.6 624.5L407.2 627.9L403.8 624.5Z" fill="#000"/>
<path d="M397.0 624.6L400.4 628.0L397.0 631.4L393.6 628.0Z" fill="#000"/>
<path d="M400.0 624.1L403.4 627.5L400.0 630.9L396.6 627.5Z" fill="#000"/>
<path d="M404.0 625.1L407.4 628.5L404.0 631.9L400.6 628.5Z" fill="#000"/>
<path d="M394.2 628.1L397.6 631.5L394.2 634.9L390.8 631.5Z" fill="#000"/>
<path d="M397.7 627.2L401.1 630.6L397.7 634.0L394.3 630.6Z" fill="#000"/>
<path d="M401.2 628.8L404.6 632.2L401.2 635.6L397.8 632.2Z" fill="#000"/>
<path d="M405.2 628.4L408.6 631.8L405.2 635.2L401.8 631.8Z" fill="#000"/>
<path d="M409.2 627.8L412.6 631.2L409.2 634.6L405.8 631.2Z" fill="#000"/>
<path d="M412.1 628.9L415.5 632.3L412.1 635.7L408.7 632.3Z" fill="#000"/>
<path d="M403.0 630.6L406.4 634.0L403.0 637.4L399.6 634.0Z" fill="#000"/>
<path d="M398.0 630.6L401.4 634.0L398.0 637.4L394.6 634.0Z" fill="#000"/>
<path d="M407.0 630.6L410.4 634.0L407.0 637.4L403.6 634.0Z" fill="#000"/>
<line x1="400.5" y1="628.6" x2="407.2" y2="628.6" stroke="#aaa" stroke-width="1.3"/>
<circle cx="428.9" cy="525.9" r="3.45" fill="#fff" stroke="#000" stroke-width="1.1"/>
<circle cx="430.5" cy="558.1" r="3.45" fill="#fff" stroke="#000" stroke-width="1.1"/>
<circle cx="428.9" cy="561.3" r="3.45" fill="#fff" stroke="#000" stroke-width="1.1"/>
<circle cx="428.3" cy="567.7" r="3.45" fill="#fff" stroke="#000" stroke-width="1.1"/>
<circle cx="428.3" cy="585.8" r="3.45" fill="#fff" stroke="#000" stroke-width="1.1"/>
<circle cx="431.2" cy="585.8" r="3.45" fill="#fff" stroke="#000" stroke-width="1.1"/>
<circle cx="430.6" cy="599.0" r="3.45" fill="#fff" stroke="#000" stroke-width="1.1"/>
<circle cx="422.5" cy="601.9" r="3.45" fill="#fff" stroke="#000" stroke-width="1.1"/>
<circle cx="424.8" cy="604.8" r="3.45" fill="#fff" stroke="#000" stroke-width="1.1"/>
<circle cx="433.5" cy="603.1" r="3.45" fill="#fff" stroke="#000" stroke-width="1.1"/>
<circle cx="428.3" cy="617.5" r="3.45" fill="#fff" stroke="#000" stroke-width="1.1"/>
<circle cx="425.4" cy="623.3" r="3.45" fill="#fff" stroke="#000" stroke-width="1.1"/>
<circle cx="431.7" cy="622.7" r="3.45" fill="#fff" stroke="#000" stroke-width="1.1"/>
<circle cx="435.8" cy="625.6" r="3.45" fill="#fff" stroke="#000" stroke-width="1.1"/>
<circle cx="421.9" cy="627.3" r="3.45" fill="#fff" stroke="#000" stroke-width="1.1"/>
<circle cx="427.7" cy="629.0" r="3.45" fill="#fff" stroke="#000" stroke-width="1.1"/>
<circle cx="420.2" cy="631.9" r="3.45" fill="#fff" stroke="#000" stroke-width="1.1"/>
<circle cx="430.6" cy="632.5" r="3.45" fill="#fff" stroke="#000" stroke-width="1.1"/>
<line x1="423.7" y1="604.0" x2="432.3" y2="604.0" stroke="#000" stroke-width="1.7"/>
<path d="M454.0 541.8L457.4 545.2L454.0 548.6L450.6 545.2Z" fill="#000"/>
<path d="M454.0 560.1L457.4 563.5L454.0 566.9L450.6 563.5Z" fill="#000"/>
<path d="M454.0 571.7L457.4 575.1L454.0 578.5L450.6 575.1Z" fill="#000"/>
<path d="M456.3 584.6L459.7 588.0L456.3 591.4L452.9 588.0Z" fill="#000"/>
<path d="M454.0 606.1L457.4 609.5L454.0 612.9L450.6 609.5Z" fill="#000"/>
<path d="M454.0 616.4L457.4 619.8L454.0 623.2L450.6 619.8Z" fill="#000"/>
<path d="M454.0 626.4L457.4 629.8L454.0 633.2L450.6 629.8Z" fill="#000"/>
<line x1="449.8" y1="590.2" x2="457.9" y2="590.2" stroke="#000" stroke-width="1.7"/>
<circle cx="479.7" cy="491.5" r="3.45" fill="#fff" stroke="#000" stroke-width="1.1"/>
<circle cx="479.7" cy="543.0" r="3.45" fill="#fff" stroke="#000" stroke-width="1.1"/>
<circle cx="479.7" cy="551.6" r="3.45" fill="#fff" stroke="#000" stroke-width="1.1"/>
<circle cx="479.7" cy="571.9" r="3.45" fill="#fff" stroke="#000" stroke-width="1.1"/>
<circle cx="474.6" cy="585.4" r="3.45" fill="#fff" stroke="#000" stroke-width="1.1"/>
<circle cx="484.2" cy="585.4" r="3.45" fill="#fff" stroke="#000" stroke-width="1.1"/>
<circle cx="479.4" cy="586.0" r="3.45" fill="#fff" stroke="#000" stroke-width="1.1"/>
<circle cx="477.2" cy="607.9" r="3.45" fill="#fff" stroke="#000" stroke-width="1.1"/>
<circle cx="477.2" cy="613.7" r="3.45" fill="#fff" stroke="#000" stroke-width="1.1"/>
<circle cx="479.7" cy="619.2" r="3.45" fill="#fff" stroke="#000" stroke-width="1.1"/>
<circle cx="479.7" cy="625.6" r="3.45" fill="#fff" stroke="#000" stroke-width="1.1"/>
<line x1="472.3" y1="582.2" x2="488.4" y2="582.2" stroke="#000" stroke-width="1.7"/>
<text x="398.1" y="653.9" font-size="11.6" text-anchor="middle">WT</text>
<text x="416.3" y="653.9" font-size="11.6">M40<tspan font-size="7" dy="-4.5">-/-</tspan></text>
<text x="461.4" y="653.9" font-size="11.6" text-anchor="middle">WT</text>
<text x="478.3" y="653.9" font-size="11.6">M40<tspan font-size="7" dy="-4.5">-/-</tspan></text>
<line x1="389.4" y1="659.1" x2="439.2" y2="659.1" stroke="#000" stroke-width="1.4"/>
<line x1="455.4" y1="659.1" x2="503.9" y2="659.1" stroke="#000" stroke-width="1.4"/>
<text x="416.3" y="674.0" font-size="11.9" font-weight="bold" text-anchor="middle">30,000</text>
<text x="481.6" y="674.0" font-size="11.9" font-weight="bold" text-anchor="middle">100,000</text>
</svg>
</body></html>
